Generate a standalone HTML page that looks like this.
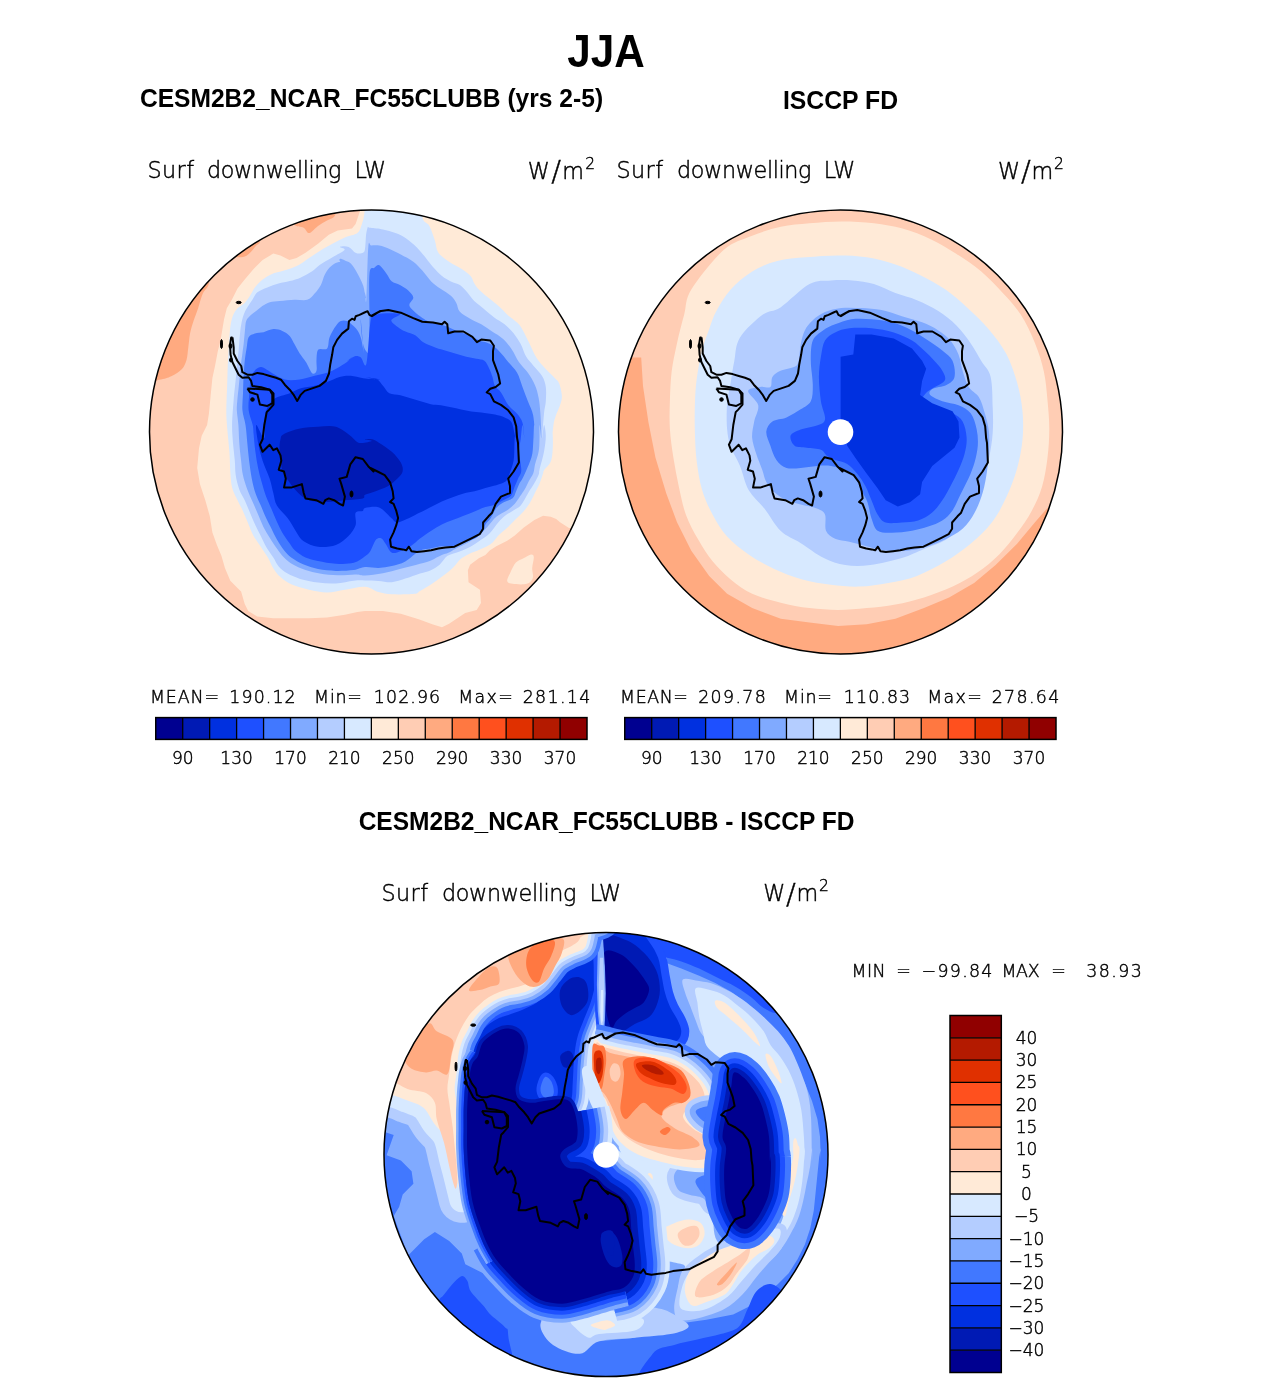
<!DOCTYPE html>
<html><head><meta charset="utf-8"><title>JJA Surf downwelling LW</title>
<style>
html,body{margin:0;padding:0;background:#fff;}
svg{display:block;}
.t{font-family:"DejaVu Sans",sans-serif;font-weight:200;fill:#000;stroke:#000;stroke-width:0.45px;}
.b{font-family:"Liberation Sans",sans-serif;font-weight:700;fill:#000;}
</style></head><body>
<svg width="1285" height="1383" viewBox="0 0 1285 1383">
<rect width="1285" height="1383" fill="#fff"/>
<text id="jja" class="b" x="606.00" y="66.6" font-size="45.5" text-anchor="middle" textLength="77.50" lengthAdjust="spacingAndGlyphs">JJA</text>
<text id="t1" class="b" x="371.50" y="106.8" font-size="26" text-anchor="middle" textLength="463.21" lengthAdjust="spacingAndGlyphs">CESM2B2_NCAR_FC55CLUBB (yrs 2-5)</text>
<text id="t2" class="b" x="840.50" y="109.2" font-size="26" text-anchor="middle" textLength="115.04" lengthAdjust="spacingAndGlyphs">ISCCP FD</text>
<text id="t3" class="b" x="606.50" y="829.6" font-size="26" text-anchor="middle" textLength="495.73" lengthAdjust="spacingAndGlyphs">CESM2B2_NCAR_FC55CLUBB - ISCCP FD</text>
<text id="s0a" class="t" x="170.75" y="178.3" font-size="22.3" text-anchor="middle" textLength="46.65" lengthAdjust="spacing">Surf</text>
<text id="s0b" class="t" x="274.25" y="178.3" font-size="22.3" text-anchor="middle" textLength="134.48" lengthAdjust="spacing">downwelling</text>
<text id="s0c" class="t" x="370.25" y="178.3" font-size="22.3" text-anchor="middle" textLength="31.62" lengthAdjust="spacing">LW</text>
<text id="w0" class="t" x="561.50" y="178.8" font-size="22.3" text-anchor="middle" textLength="67.32" lengthAdjust="spacing">W<tspan font-size="29" dy="2.5">/</tspan><tspan dy="-2.5">m</tspan><tspan font-size="15.5" dy="-10">2</tspan></text>
<text id="m0a" class="t" x="184.50" y="702.9" font-size="17.4" text-anchor="middle" textLength="69.11" lengthAdjust="spacing">MEAN=</text>
<text id="m0b" class="t" x="262.50" y="702.9" font-size="17.4" text-anchor="middle" textLength="66.38" lengthAdjust="spacing">190.12</text>
<text id="m0c" class="t" x="338.00" y="702.9" font-size="17.4" text-anchor="middle" textLength="47.84" lengthAdjust="spacing">Min=</text>
<text id="m0d" class="t" x="407.00" y="702.9" font-size="17.4" text-anchor="middle" textLength="66.26" lengthAdjust="spacing">102.96</text>
<text id="m0e" class="t" x="485.50" y="702.9" font-size="17.4" text-anchor="middle" textLength="54.53" lengthAdjust="spacing">Max=</text>
<text id="m0f" class="t" x="556.50" y="702.9" font-size="17.4" text-anchor="middle" textLength="67.58" lengthAdjust="spacing">281.14</text>
<text id="s1a" class="t" x="639.75" y="178.3" font-size="22.3" text-anchor="middle" textLength="46.65" lengthAdjust="spacing">Surf</text>
<text id="s1b" class="t" x="744.25" y="178.3" font-size="22.3" text-anchor="middle" textLength="134.48" lengthAdjust="spacing">downwelling</text>
<text id="s1c" class="t" x="839.45" y="178.3" font-size="22.3" text-anchor="middle" textLength="31.62" lengthAdjust="spacing">LW</text>
<text id="w1" class="t" x="1031.00" y="178.8" font-size="22.3" text-anchor="middle" textLength="65.98" lengthAdjust="spacing">W<tspan font-size="29" dy="2.5">/</tspan><tspan dy="-2.5">m</tspan><tspan font-size="15.5" dy="-10">2</tspan></text>
<text id="m1a" class="t" x="654.00" y="702.9" font-size="17.4" text-anchor="middle" textLength="67.86" lengthAdjust="spacing">MEAN=</text>
<text id="m1b" class="t" x="732.00" y="702.9" font-size="17.4" text-anchor="middle" textLength="67.58" lengthAdjust="spacing">209.78</text>
<text id="m1c" class="t" x="808.00" y="702.9" font-size="17.4" text-anchor="middle" textLength="47.84" lengthAdjust="spacing">Min=</text>
<text id="m1d" class="t" x="877.00" y="702.9" font-size="17.4" text-anchor="middle" textLength="66.26" lengthAdjust="spacing">110.83</text>
<text id="m1e" class="t" x="954.50" y="702.9" font-size="17.4" text-anchor="middle" textLength="54.53" lengthAdjust="spacing">Max=</text>
<text id="m1f" class="t" x="1025.50" y="702.9" font-size="17.4" text-anchor="middle" textLength="67.58" lengthAdjust="spacing">278.64</text>
<text id="s2a" class="t" x="404.75" y="901.3" font-size="22.3" text-anchor="middle" textLength="46.65" lengthAdjust="spacing">Surf</text>
<text id="s2b" class="t" x="509.25" y="901.3" font-size="22.3" text-anchor="middle" textLength="134.48" lengthAdjust="spacing">downwelling</text>
<text id="s2c" class="t" x="605.25" y="901.3" font-size="22.3" text-anchor="middle" textLength="31.62" lengthAdjust="spacing">LW</text>
<text id="w2" class="t" x="796.00" y="901.1" font-size="22.3" text-anchor="middle" textLength="65.72" lengthAdjust="spacing">W<tspan font-size="29" dy="2.5">/</tspan><tspan dy="-2.5">m</tspan><tspan font-size="15.5" dy="-10">2</tspan></text>
<text id="mm1" class="t" x="868.50" y="976.5" font-size="17.4" text-anchor="middle" textLength="34.21" lengthAdjust="spacing">MIN</text>
<text id="mm2" class="t" x="903.50" y="976.5" font-size="17.4" text-anchor="middle" textLength="21.58" lengthAdjust="spacing">=</text>
<text id="mm3" class="t" x="957.00" y="976.5" font-size="17.4" text-anchor="middle" textLength="70.84" lengthAdjust="spacing">&#8722;99.84</text>
<text id="mm4" class="t" x="1020.50" y="976.5" font-size="17.4" text-anchor="middle" textLength="38.23" lengthAdjust="spacing">MAX</text>
<text id="mm5" class="t" x="1058.50" y="976.5" font-size="17.4" text-anchor="middle" textLength="15.98" lengthAdjust="spacing">=</text>
<text id="mm6" class="t" x="1114.00" y="976.5" font-size="17.4" text-anchor="middle" textLength="55.67" lengthAdjust="spacing">38.93</text>
<rect x="155.75" y="717.6" width="26.95" height="21.8" fill="#000090"/>
<rect x="182.70" y="717.6" width="26.95" height="21.8" fill="#001AB4"/>
<rect x="209.66" y="717.6" width="26.95" height="21.8" fill="#0030E0"/>
<rect x="236.61" y="717.6" width="26.95" height="21.8" fill="#1E50FF"/>
<rect x="263.56" y="717.6" width="26.95" height="21.8" fill="#4178FF"/>
<rect x="290.52" y="717.6" width="26.95" height="21.8" fill="#80AAFF"/>
<rect x="317.47" y="717.6" width="26.95" height="21.8" fill="#B4CDFF"/>
<rect x="344.42" y="717.6" width="26.95" height="21.8" fill="#D7E9FF"/>
<rect x="371.38" y="717.6" width="26.95" height="21.8" fill="#FFEAD7"/>
<rect x="398.33" y="717.6" width="26.95" height="21.8" fill="#FFCDB4"/>
<rect x="425.28" y="717.6" width="26.95" height="21.8" fill="#FFAA80"/>
<rect x="452.23" y="717.6" width="26.95" height="21.8" fill="#FF7841"/>
<rect x="479.19" y="717.6" width="26.95" height="21.8" fill="#FF501E"/>
<rect x="506.14" y="717.6" width="26.95" height="21.8" fill="#E03000"/>
<rect x="533.09" y="717.6" width="26.95" height="21.8" fill="#B41A00"/>
<rect x="560.05" y="717.6" width="26.95" height="21.8" fill="#900000"/>
<line x1="182.70" y1="717.6" x2="182.70" y2="739.4" stroke="#000" stroke-width="1.3"/>
<line x1="209.66" y1="717.6" x2="209.66" y2="739.4" stroke="#000" stroke-width="1.3"/>
<line x1="236.61" y1="717.6" x2="236.61" y2="739.4" stroke="#000" stroke-width="1.3"/>
<line x1="263.56" y1="717.6" x2="263.56" y2="739.4" stroke="#000" stroke-width="1.3"/>
<line x1="290.52" y1="717.6" x2="290.52" y2="739.4" stroke="#000" stroke-width="1.3"/>
<line x1="317.47" y1="717.6" x2="317.47" y2="739.4" stroke="#000" stroke-width="1.3"/>
<line x1="344.42" y1="717.6" x2="344.42" y2="739.4" stroke="#000" stroke-width="1.3"/>
<line x1="371.38" y1="717.6" x2="371.38" y2="739.4" stroke="#000" stroke-width="1.3"/>
<line x1="398.33" y1="717.6" x2="398.33" y2="739.4" stroke="#000" stroke-width="1.3"/>
<line x1="425.28" y1="717.6" x2="425.28" y2="739.4" stroke="#000" stroke-width="1.3"/>
<line x1="452.23" y1="717.6" x2="452.23" y2="739.4" stroke="#000" stroke-width="1.3"/>
<line x1="479.19" y1="717.6" x2="479.19" y2="739.4" stroke="#000" stroke-width="1.3"/>
<line x1="506.14" y1="717.6" x2="506.14" y2="739.4" stroke="#000" stroke-width="1.3"/>
<line x1="533.09" y1="717.6" x2="533.09" y2="739.4" stroke="#000" stroke-width="1.3"/>
<line x1="560.05" y1="717.6" x2="560.05" y2="739.4" stroke="#000" stroke-width="1.3"/>
<rect x="155.75" y="717.6" width="431.25" height="21.8" fill="none" stroke="#000" stroke-width="1.5"/>
<text class="t" x="182.7" y="763.8" font-size="17" text-anchor="middle">90</text>
<text class="t" x="236.6" y="763.8" font-size="17" text-anchor="middle">130</text>
<text class="t" x="290.5" y="763.8" font-size="17" text-anchor="middle">170</text>
<text class="t" x="344.4" y="763.8" font-size="17" text-anchor="middle">210</text>
<text class="t" x="398.3" y="763.8" font-size="17" text-anchor="middle">250</text>
<text class="t" x="452.2" y="763.8" font-size="17" text-anchor="middle">290</text>
<text class="t" x="506.1" y="763.8" font-size="17" text-anchor="middle">330</text>
<text class="t" x="560.0" y="763.8" font-size="17" text-anchor="middle">370</text>
<rect x="624.75" y="717.6" width="26.95" height="21.8" fill="#000090"/>
<rect x="651.70" y="717.6" width="26.95" height="21.8" fill="#001AB4"/>
<rect x="678.66" y="717.6" width="26.95" height="21.8" fill="#0030E0"/>
<rect x="705.61" y="717.6" width="26.95" height="21.8" fill="#1E50FF"/>
<rect x="732.56" y="717.6" width="26.95" height="21.8" fill="#4178FF"/>
<rect x="759.52" y="717.6" width="26.95" height="21.8" fill="#80AAFF"/>
<rect x="786.47" y="717.6" width="26.95" height="21.8" fill="#B4CDFF"/>
<rect x="813.42" y="717.6" width="26.95" height="21.8" fill="#D7E9FF"/>
<rect x="840.38" y="717.6" width="26.95" height="21.8" fill="#FFEAD7"/>
<rect x="867.33" y="717.6" width="26.95" height="21.8" fill="#FFCDB4"/>
<rect x="894.28" y="717.6" width="26.95" height="21.8" fill="#FFAA80"/>
<rect x="921.23" y="717.6" width="26.95" height="21.8" fill="#FF7841"/>
<rect x="948.19" y="717.6" width="26.95" height="21.8" fill="#FF501E"/>
<rect x="975.14" y="717.6" width="26.95" height="21.8" fill="#E03000"/>
<rect x="1002.09" y="717.6" width="26.95" height="21.8" fill="#B41A00"/>
<rect x="1029.05" y="717.6" width="26.95" height="21.8" fill="#900000"/>
<line x1="651.70" y1="717.6" x2="651.70" y2="739.4" stroke="#000" stroke-width="1.3"/>
<line x1="678.66" y1="717.6" x2="678.66" y2="739.4" stroke="#000" stroke-width="1.3"/>
<line x1="705.61" y1="717.6" x2="705.61" y2="739.4" stroke="#000" stroke-width="1.3"/>
<line x1="732.56" y1="717.6" x2="732.56" y2="739.4" stroke="#000" stroke-width="1.3"/>
<line x1="759.52" y1="717.6" x2="759.52" y2="739.4" stroke="#000" stroke-width="1.3"/>
<line x1="786.47" y1="717.6" x2="786.47" y2="739.4" stroke="#000" stroke-width="1.3"/>
<line x1="813.42" y1="717.6" x2="813.42" y2="739.4" stroke="#000" stroke-width="1.3"/>
<line x1="840.38" y1="717.6" x2="840.38" y2="739.4" stroke="#000" stroke-width="1.3"/>
<line x1="867.33" y1="717.6" x2="867.33" y2="739.4" stroke="#000" stroke-width="1.3"/>
<line x1="894.28" y1="717.6" x2="894.28" y2="739.4" stroke="#000" stroke-width="1.3"/>
<line x1="921.23" y1="717.6" x2="921.23" y2="739.4" stroke="#000" stroke-width="1.3"/>
<line x1="948.19" y1="717.6" x2="948.19" y2="739.4" stroke="#000" stroke-width="1.3"/>
<line x1="975.14" y1="717.6" x2="975.14" y2="739.4" stroke="#000" stroke-width="1.3"/>
<line x1="1002.09" y1="717.6" x2="1002.09" y2="739.4" stroke="#000" stroke-width="1.3"/>
<line x1="1029.05" y1="717.6" x2="1029.05" y2="739.4" stroke="#000" stroke-width="1.3"/>
<rect x="624.75" y="717.6" width="431.25" height="21.8" fill="none" stroke="#000" stroke-width="1.5"/>
<text class="t" x="651.7" y="763.8" font-size="17" text-anchor="middle">90</text>
<text class="t" x="705.6" y="763.8" font-size="17" text-anchor="middle">130</text>
<text class="t" x="759.5" y="763.8" font-size="17" text-anchor="middle">170</text>
<text class="t" x="813.4" y="763.8" font-size="17" text-anchor="middle">210</text>
<text class="t" x="867.3" y="763.8" font-size="17" text-anchor="middle">250</text>
<text class="t" x="921.2" y="763.8" font-size="17" text-anchor="middle">290</text>
<text class="t" x="975.1" y="763.8" font-size="17" text-anchor="middle">330</text>
<text class="t" x="1029.0" y="763.8" font-size="17" text-anchor="middle">370</text>
<rect x="950" y="1015.50" width="51.3" height="22.31" fill="#900000"/>
<rect x="950" y="1037.81" width="51.3" height="22.31" fill="#B41A00"/>
<rect x="950" y="1060.12" width="51.3" height="22.31" fill="#E03000"/>
<rect x="950" y="1082.44" width="51.3" height="22.31" fill="#FF501E"/>
<rect x="950" y="1104.75" width="51.3" height="22.31" fill="#FF7841"/>
<rect x="950" y="1127.06" width="51.3" height="22.31" fill="#FFAA80"/>
<rect x="950" y="1149.38" width="51.3" height="22.31" fill="#FFCDB4"/>
<rect x="950" y="1171.69" width="51.3" height="22.31" fill="#FFEAD7"/>
<rect x="950" y="1194.00" width="51.3" height="22.31" fill="#D7E9FF"/>
<rect x="950" y="1216.31" width="51.3" height="22.31" fill="#B4CDFF"/>
<rect x="950" y="1238.62" width="51.3" height="22.31" fill="#80AAFF"/>
<rect x="950" y="1260.94" width="51.3" height="22.31" fill="#4178FF"/>
<rect x="950" y="1283.25" width="51.3" height="22.31" fill="#1E50FF"/>
<rect x="950" y="1305.56" width="51.3" height="22.31" fill="#0030E0"/>
<rect x="950" y="1327.88" width="51.3" height="22.31" fill="#001AB4"/>
<rect x="950" y="1350.19" width="51.3" height="22.31" fill="#000090"/>
<line x1="950" y1="1037.81" x2="1001.3" y2="1037.81" stroke="#000" stroke-width="1.3"/>
<line x1="950" y1="1060.12" x2="1001.3" y2="1060.12" stroke="#000" stroke-width="1.3"/>
<line x1="950" y1="1082.44" x2="1001.3" y2="1082.44" stroke="#000" stroke-width="1.3"/>
<line x1="950" y1="1104.75" x2="1001.3" y2="1104.75" stroke="#000" stroke-width="1.3"/>
<line x1="950" y1="1127.06" x2="1001.3" y2="1127.06" stroke="#000" stroke-width="1.3"/>
<line x1="950" y1="1149.38" x2="1001.3" y2="1149.38" stroke="#000" stroke-width="1.3"/>
<line x1="950" y1="1171.69" x2="1001.3" y2="1171.69" stroke="#000" stroke-width="1.3"/>
<line x1="950" y1="1194.00" x2="1001.3" y2="1194.00" stroke="#000" stroke-width="1.3"/>
<line x1="950" y1="1216.31" x2="1001.3" y2="1216.31" stroke="#000" stroke-width="1.3"/>
<line x1="950" y1="1238.62" x2="1001.3" y2="1238.62" stroke="#000" stroke-width="1.3"/>
<line x1="950" y1="1260.94" x2="1001.3" y2="1260.94" stroke="#000" stroke-width="1.3"/>
<line x1="950" y1="1283.25" x2="1001.3" y2="1283.25" stroke="#000" stroke-width="1.3"/>
<line x1="950" y1="1305.56" x2="1001.3" y2="1305.56" stroke="#000" stroke-width="1.3"/>
<line x1="950" y1="1327.88" x2="1001.3" y2="1327.88" stroke="#000" stroke-width="1.3"/>
<line x1="950" y1="1350.19" x2="1001.3" y2="1350.19" stroke="#000" stroke-width="1.3"/>
<rect x="950" y="1015.5" width="51.3" height="357" fill="none" stroke="#000" stroke-width="1.5"/>
<text class="t" x="1026.5" y="1043.8" font-size="17" text-anchor="middle">40</text>
<text class="t" x="1026.5" y="1066.1" font-size="17" text-anchor="middle">30</text>
<text class="t" x="1026.5" y="1088.4" font-size="17" text-anchor="middle">25</text>
<text class="t" x="1026.5" y="1110.8" font-size="17" text-anchor="middle">20</text>
<text class="t" x="1026.5" y="1133.1" font-size="17" text-anchor="middle">15</text>
<text class="t" x="1026.5" y="1155.4" font-size="17" text-anchor="middle">10</text>
<text class="t" x="1026.5" y="1177.7" font-size="17" text-anchor="middle">5</text>
<text class="t" x="1026.5" y="1200.0" font-size="17" text-anchor="middle">0</text>
<text class="t" x="1026.5" y="1222.3" font-size="17" text-anchor="middle">&#8722;5</text>
<text class="t" x="1026.5" y="1244.6" font-size="17" text-anchor="middle">&#8722;10</text>
<text class="t" x="1026.5" y="1266.9" font-size="17" text-anchor="middle">&#8722;15</text>
<text class="t" x="1026.5" y="1289.2" font-size="17" text-anchor="middle">&#8722;20</text>
<text class="t" x="1026.5" y="1311.6" font-size="17" text-anchor="middle">&#8722;25</text>
<text class="t" x="1026.5" y="1333.9" font-size="17" text-anchor="middle">&#8722;30</text>
<text class="t" x="1026.5" y="1356.2" font-size="17" text-anchor="middle">&#8722;40</text>
<clipPath id="clipa"><circle cx="371.5" cy="432" r="222"/></clipPath>
<g clip-path="url(#clipa)">
<circle cx="371.5" cy="432" r="222" fill="#FFCDB4"/>
<path d="M208.9,282.3C209.0,287.6 204.4,289.6 202.6,293.9C200.8,298.2 199.6,303.8 198.1,308.2C196.6,312.7 195.0,316.6 193.6,320.8C192.3,324.9 191.0,328.8 190.1,333.3C189.2,337.8 188.9,343.1 188.3,347.6C187.7,352.1 187.5,356.6 186.5,360.1C185.4,363.7 184.5,366.4 182.0,369.1C179.5,371.8 175.1,374.5 171.3,376.2C167.4,378.0 165.6,378.6 158.7,379.8C151.9,381.0 134.9,403.1 130.1,383.4C125.3,363.7 118.2,282.0 130.1,261.7C142.0,241.4 188.6,258.3 201.7,261.7C214.8,265.1 208.7,276.9 208.9,282.3Z" fill="#FFAA80"/>
<path d="M232.1,254.9C234.2,257.1 238.4,257.3 241.1,257.2C243.8,257.2 245.8,256.3 248.2,254.5C250.6,252.7 253.5,248.7 255.4,246.5C257.3,244.2 259.9,244.5 259.9,241.1C259.9,237.7 260.6,225.5 255.4,225.9C250.2,226.3 232.4,239.0 228.5,243.8C224.7,248.6 230.0,252.7 232.1,254.9Z" fill="#FFAA80"/>
<path d="M293.9,223.2C295.5,228.0 301.2,226.0 303.7,227.7C306.3,229.3 306.7,233.4 309.1,233.1C311.5,232.8 315.1,228.0 318.0,225.9C321.0,223.8 324.2,222.3 327.0,220.5C329.8,218.7 333.7,218.7 335.0,215.2C336.4,211.6 341.9,201.7 335.0,199.1C328.2,196.4 300.7,195.0 293.9,199.1C287.0,203.1 292.2,218.4 293.9,223.2Z" fill="#FFAA80"/>
<path d="M360.1,210.7 355.6,224.1 352.0,228.6 337.7,230.4 328.8,234.8 318.0,243.8 305.5,252.7 296.6,258.1 289.4,259.9 280.5,255.4 273.3,253.6 262.6,259.9 253.6,268.9 244.7,279.6 237.5,288.5 232.1,299.3 226.8,308.2 224.1,319.0 222.3,329.7 220.5,340.5 217.8,351.2 215.1,365.5 212.4,378.0 210.6,395.9 208.9,413.8 207.1,425.0 201.7,435.7 199.0,448.3 197.2,468.0 199.9,484.1 205.3,500.2 209.8,516.3 212.4,532.4 216.9,544.9 221.4,555.7 225.0,568.2 230.3,580.7 237.5,587.9 241.1,591.5 244.7,604.0 248.2,611.1 257.2,616.5 273.3,618.3 291.2,618.3 309.1,618.3 327.0,617.4 344.9,614.7 357.4,612.0 365.0,611.1 382.9,611.1 400.8,613.8 418.7,619.2 433.0,624.6 442.0,627.3 449.1,623.7 465.2,612.9 476.7,610.0 481.0,602.9 479.9,589.8 468.5,582.2 467.9,570.2 470.1,564.8 478.8,558.2 485.4,555.0 489.7,550.6 496.3,546.3 507.2,540.8 514.8,535.4 523.5,527.7 534.4,520.1 543.1,515.8 550.7,516.8 556.2,519.0 560.0,522.3 569.0,527.9 615.6,527.9 640.0,530.0 640.0,150.0 360.0,150.0Z" fill="#FFEAD7"/>
<path d="M507.2,581.1C506.8,579.2 509.0,575.5 510.4,572.4C511.9,569.3 513.7,565.0 515.9,562.6C518.0,560.2 521.0,559.6 523.5,558.2C526.0,556.9 529.4,554.6 531.1,554.4C532.8,554.3 533.7,554.9 533.8,557.2C534.0,559.4 532.4,564.6 532.2,568.0C532.0,571.5 533.7,575.2 532.8,577.9C531.8,580.5 530.1,582.8 526.8,583.8C523.4,584.8 515.9,584.3 512.6,583.8C509.3,583.4 507.5,583.0 507.2,581.1Z" fill="#FFEAD7"/>
<path d="M364.6,211.6C363.7,218.9 363.1,220.5 361.9,224.1C360.7,227.7 360.2,230.8 357.4,233.1C354.6,235.3 349.1,235.7 344.9,237.5C340.7,239.3 336.5,241.6 332.4,243.8C328.2,246.0 323.7,248.6 319.8,251.0C315.9,253.3 312.7,255.7 309.1,258.1C305.5,260.5 302.5,263.2 298.3,265.3C294.2,267.4 288.5,269.2 284.0,270.6C279.6,272.1 275.1,272.7 271.5,274.2C267.9,275.7 265.2,277.5 262.6,279.6C259.9,281.7 257.5,284.1 255.4,286.8C253.3,289.4 251.8,293.0 250.0,295.7C248.2,298.4 246.7,300.8 244.7,302.9C242.6,305.0 239.4,306.1 237.5,308.2C235.6,310.3 234.2,312.7 233.0,315.4C231.9,318.1 231.3,320.8 230.7,324.3C230.1,327.9 229.8,332.4 229.4,336.9C229.1,341.3 228.8,345.8 228.5,351.2C228.2,356.6 227.9,363.1 227.6,369.1C227.4,375.1 227.3,381.0 227.1,387.0C226.9,393.0 226.5,398.9 226.4,404.9C226.3,410.9 226.2,415.0 226.8,422.8C227.3,430.6 228.8,443.7 229.4,451.8C230.0,460.0 229.9,465.6 230.3,471.5C230.8,477.5 230.9,482.9 232.1,487.6C233.3,492.4 235.7,496.3 237.5,500.2C239.3,504.1 241.1,507.0 242.9,510.9C244.7,514.8 246.4,519.3 248.2,523.4C250.0,527.6 251.5,532.1 253.6,536.0C255.7,539.8 258.4,543.1 260.8,546.7C263.1,550.3 265.8,553.9 267.9,557.5C270.0,561.0 271.2,564.9 273.3,568.2C275.4,571.5 277.5,574.5 280.5,577.1C283.4,579.8 286.4,582.2 291.2,584.3C296.0,586.4 303.1,588.3 309.1,589.7C315.1,591.0 321.0,592.4 327.0,592.4C333.0,592.4 338.6,590.6 344.9,589.7C351.2,588.7 359.4,586.3 365.0,586.7C370.6,587.1 374.0,590.8 378.4,592.1C382.9,593.3 385.9,594.0 391.9,594.3C397.8,594.6 409.5,594.4 414.2,593.8C418.9,593.3 417.2,592.5 420.0,590.9C422.8,589.4 427.3,586.8 430.9,584.4C434.5,582.0 438.2,579.5 441.8,576.8C445.4,574.0 449.6,571.0 452.7,568.0C455.8,565.1 457.6,561.7 460.3,559.3C463.0,557.0 465.8,555.5 469.0,553.9C472.3,552.3 476.3,551.2 479.9,549.5C483.6,547.9 487.7,546.4 490.8,544.1C493.9,541.7 495.7,538.1 498.4,535.4C501.2,532.6 504.3,530.5 507.2,527.7C510.1,525.0 513.1,521.7 515.9,519.0C518.6,516.3 521.1,514.1 523.5,511.4C525.9,508.7 528.0,506.0 530.0,502.7C532.0,499.4 533.8,495.1 535.5,491.8C537.1,488.5 538.6,486.2 539.8,483.1C541.1,480.0 542.4,475.4 543.1,473.3C543.8,471.1 542.9,472.1 544.2,470.0C545.5,467.9 549.7,465.3 551.1,460.8C552.6,456.3 552.8,448.9 552.9,442.9C553.1,436.9 552.2,425.8 552.0,425.0C551.9,424.2 551.7,438.4 552.0,438.0C552.3,437.6 553.1,426.8 553.8,422.8C554.6,418.8 555.5,416.8 556.5,413.8C557.6,410.9 559.2,407.9 560.1,404.9C561.0,401.9 562.0,399.5 561.9,395.9C561.7,392.4 560.4,386.4 559.2,383.4C558.0,380.4 557.0,380.4 554.7,378.0C552.5,375.7 548.8,372.4 545.8,369.1C542.8,365.8 539.5,362.5 536.8,358.3C534.1,354.2 532.1,348.8 529.7,344.0C527.3,339.3 524.6,333.3 522.5,329.7C520.4,326.1 519.5,324.9 517.1,322.6C514.8,320.2 510.9,317.8 508.2,315.4C505.5,313.0 504.0,310.9 501.0,308.2C498.0,305.5 493.9,302.3 490.3,299.3C486.7,296.3 482.2,293.0 479.6,290.3C476.9,287.6 475.7,285.6 474.2,283.2C472.7,280.8 472.7,278.4 470.6,276.0C468.5,273.6 465.2,271.2 461.7,268.9C458.1,266.5 453.0,264.4 449.1,261.7C445.2,259.0 440.8,256.3 438.4,252.7C436.0,249.2 436.3,244.7 434.8,240.2C433.3,235.7 431.5,229.9 429.4,225.9C427.3,221.9 423.0,223.7 422.3,216.1C421.5,208.4 434.2,186.0 425.0,180.0C415.8,174.0 377.1,174.7 367.0,180.0C356.9,185.3 365.4,204.2 364.6,211.6Z" fill="#D7E9FF"/>
<path d="M368.3,227.2C368.8,227.3 368.3,227.5 370.7,227.8C373.2,228.2 378.8,228.6 382.9,229.5C387.0,230.4 391.5,231.6 395.4,233.1C399.3,234.5 402.6,236.0 406.2,238.4C409.7,240.8 413.6,244.1 416.9,247.4C420.2,250.7 423.2,254.8 425.9,258.1C428.5,261.4 430.3,264.1 433.0,267.1C435.7,270.0 439.0,273.6 442.0,276.0C444.9,278.4 447.9,279.9 450.9,281.4C453.9,282.9 457.2,283.2 459.9,285.0C462.5,286.8 464.6,289.4 467.0,292.1C469.4,294.8 471.5,298.4 474.2,301.1C476.9,303.8 479.8,305.5 483.1,308.2C486.4,310.9 490.3,314.5 493.9,317.2C497.5,319.9 501.3,321.7 504.6,324.3C507.9,327.0 510.9,330.0 513.6,333.3C516.2,336.6 518.6,340.2 520.7,344.0C522.8,347.9 524.0,353.0 526.1,356.6C528.2,360.1 530.6,362.2 533.2,365.5C535.9,368.8 540.1,372.7 542.2,376.2C544.3,379.8 545.2,382.8 545.8,387.0C546.4,391.2 546.1,396.8 545.8,401.3C545.5,405.8 544.6,407.7 544.0,413.8C543.4,420.0 542.2,436.1 542.2,438.0C542.2,439.9 543.4,425.4 544.0,425.0C544.6,424.6 545.8,431.3 545.8,435.7C545.8,440.2 545.0,446.2 544.0,451.8C542.9,457.5 540.4,466.0 539.5,469.7C538.6,473.5 539.6,472.1 538.7,474.4C537.9,476.6 536.0,480.2 534.4,483.1C532.8,486.0 530.6,489.1 528.9,491.8C527.3,494.5 526.0,497.1 524.6,499.4C523.1,501.8 522.0,504.1 520.2,506.0C518.4,507.8 516.2,508.7 513.7,510.3C511.2,511.9 507.5,513.8 505.0,515.8C502.4,517.8 501.0,519.4 498.4,522.3C495.9,525.2 492.6,530.3 489.7,533.2C486.8,536.1 484.5,537.4 481.0,539.7C477.6,542.1 473.2,545.2 469.0,547.4C464.8,549.5 459.6,551.3 456.0,552.8C452.3,554.3 450.0,554.1 447.2,556.1C444.5,558.1 442.3,562.4 439.6,564.8C436.9,567.1 434.2,568.8 430.9,570.2C427.6,571.7 424.3,572.1 420.0,573.5C415.7,574.9 410.0,577.2 405.3,578.6C400.6,580.1 396.3,581.8 391.9,582.2C387.4,582.6 382.9,581.2 378.4,580.9C374.0,580.6 369.1,580.4 365.0,580.4C360.9,580.4 358.7,580.2 353.8,580.7C349.0,581.2 341.9,583.1 335.9,583.4C330.0,583.7 324.0,583.3 318.0,582.5C312.1,581.8 305.2,580.4 300.1,578.9C295.1,577.4 291.2,575.6 287.6,573.6C284.0,571.5 281.0,569.1 278.7,566.4C276.3,563.7 275.4,560.7 273.3,557.5C271.2,554.2 268.2,550.3 266.1,546.7C264.0,543.1 262.6,539.6 260.8,536.0C259.0,532.4 257.2,529.1 255.4,525.2C253.6,521.4 251.8,516.9 250.0,512.7C248.2,508.5 246.4,504.1 244.7,500.2C242.9,496.3 240.8,493.6 239.3,489.4C237.8,485.3 236.4,479.9 235.7,475.1C235.0,470.3 235.3,466.2 234.8,460.8C234.4,455.4 233.5,448.9 233.0,442.9C232.6,436.9 232.0,432.2 232.1,425.0C232.2,417.8 233.2,405.8 233.7,399.4C234.2,393.1 234.5,391.1 234.9,387.0C235.4,382.8 235.8,378.7 236.2,374.5C236.6,370.4 237.0,366.2 237.4,362.1C237.8,357.9 238.3,354.2 238.7,349.6C239.1,345.1 239.5,338.8 239.9,334.7C240.3,330.5 240.5,328.0 241.2,324.7C241.8,321.4 242.6,317.7 243.7,314.8C244.7,311.9 245.9,309.8 247.4,307.3C248.9,304.8 250.7,302.3 252.4,299.8C254.0,297.3 254.9,294.4 257.4,292.3C259.9,290.3 263.8,288.8 267.3,287.4C270.9,285.9 274.8,284.7 278.5,283.6C282.3,282.6 286.0,282.2 289.7,281.1C293.5,280.1 297.2,279.1 300.9,277.4C304.7,275.7 309.0,273.2 312.2,271.2C315.3,269.1 316.3,267.2 319.6,264.9C322.9,262.7 327.9,260.0 332.1,257.5C336.2,255.0 343.2,251.8 344.5,250.0C345.9,248.2 339.3,247.4 340.0,246.9C340.7,246.4 345.9,245.9 348.6,246.9C351.3,247.9 353.5,252.1 356.0,253.0C358.4,254.0 361.8,253.4 363.4,252.4C364.9,251.4 364.8,249.9 365.2,246.9C365.7,243.9 365.7,237.9 366.1,234.6C366.5,231.3 367.3,228.4 367.7,227.2C368.0,226.0 367.8,227.1 368.3,227.2Z" fill="#B4CDFF"/>
<path d="M371.3,245.6C373.1,245.4 376.2,245.0 379.3,245.6C382.5,246.2 386.5,247.7 390.1,249.2C393.6,250.7 396.9,252.4 400.8,254.5C404.7,256.6 409.7,259.0 413.3,261.7C416.9,264.4 419.3,267.4 422.3,270.6C425.3,273.9 428.2,278.4 431.2,281.4C434.2,284.4 436.9,286.2 440.2,288.5C443.5,290.9 448.2,293.3 450.9,295.7C453.6,298.1 454.8,300.2 456.3,302.9C457.8,305.5 457.5,309.1 459.9,311.8C462.2,314.5 467.0,316.9 470.6,319.0C474.2,321.1 477.8,322.3 481.3,324.3C484.9,326.4 488.5,329.1 492.1,331.5C495.7,333.9 499.5,335.7 502.8,338.7C506.1,341.6 509.1,345.5 511.8,349.4C514.5,353.3 516.2,358.1 518.9,361.9C521.6,365.8 525.2,368.8 527.9,372.7C530.6,376.5 533.2,381.0 535.0,385.2C536.8,389.4 537.7,393.0 538.6,397.7C539.5,402.5 540.0,407.1 540.4,413.8C540.9,420.5 541.5,436.1 541.3,438.0C541.2,439.9 539.8,424.8 539.5,425.0C539.2,425.2 539.7,434.8 539.5,439.3C539.4,443.8 539.4,447.7 538.6,451.8C537.9,456.0 535.9,460.8 535.0,464.4C534.2,467.9 534.3,470.5 533.3,473.3C532.3,476.0 530.4,478.2 528.9,480.9C527.5,483.6 526.0,487.1 524.6,489.6C523.1,492.2 521.9,493.8 520.2,496.1C518.6,498.5 517.0,501.4 514.8,503.8C512.6,506.1 510.2,508.1 507.2,510.3C504.1,512.5 499.5,514.1 496.3,516.8C493.0,519.6 490.3,523.7 487.5,526.7C484.8,529.6 483.0,531.7 479.9,534.3C476.8,536.8 473.0,539.5 469.0,541.9C465.0,544.3 459.4,546.6 456.0,548.4C452.5,550.3 450.7,551.7 448.3,552.8C446.0,553.9 444.7,553.7 441.8,555.0C438.9,556.2 434.5,559.0 430.9,560.4C427.3,561.9 425.0,562.3 420.0,563.7C415.0,565.1 407.0,567.2 400.8,568.8C394.6,570.4 388.9,572.1 382.9,573.3C376.9,574.4 369.5,575.3 365.0,575.5C360.5,575.7 360.2,574.5 355.6,574.5C351.1,574.4 343.7,575.5 337.7,575.3C331.8,575.2 325.2,574.5 319.8,573.6C314.5,572.7 310.0,571.5 305.5,570.0C301.0,568.5 296.6,566.7 293.0,564.6C289.4,562.5 286.7,560.1 284.0,557.5C281.3,554.8 279.3,551.8 276.9,548.5C274.5,545.2 271.9,541.3 269.7,537.8C267.5,534.2 265.4,530.9 263.4,527.0C261.5,523.1 259.9,518.7 258.1,514.5C256.3,510.3 254.5,506.1 252.7,502.0C250.9,497.8 249.0,493.9 247.3,489.4C245.7,485.0 243.9,479.9 242.9,475.1C241.8,470.3 241.7,466.2 241.1,460.8C240.5,455.4 239.7,448.9 239.3,442.9C238.8,436.9 238.8,430.5 238.4,425.0C238.0,419.5 237.0,414.3 236.8,410.0C236.7,405.8 237.1,403.3 237.4,399.4C237.7,395.6 238.3,391.1 238.7,387.0C239.1,382.8 239.5,378.7 239.9,374.5C240.3,370.4 240.8,365.6 241.2,362.1C241.6,358.6 242.0,356.5 242.4,353.4C242.8,350.2 243.2,347.1 243.7,343.4C244.1,339.7 244.5,334.7 244.9,330.9C245.3,327.2 245.3,323.5 246.2,321.0C247.0,318.5 248.2,317.7 249.9,316.0C251.5,314.3 254.0,312.7 256.1,311.0C258.2,309.4 260.1,307.5 262.3,306.0C264.6,304.6 266.9,303.1 269.8,302.3C272.7,301.5 275.6,301.5 279.8,301.1C283.9,300.6 290.2,300.0 294.7,299.8C299.3,299.6 303.9,300.9 307.2,299.8C310.5,298.8 312.4,296.1 314.6,293.6C316.9,291.1 319.2,288.0 320.9,284.9C322.5,281.8 323.2,277.8 324.6,274.9C326.1,272.0 327.5,269.5 329.6,267.4C331.7,265.4 334.6,263.3 337.1,262.5C339.6,261.6 341.8,261.6 344.5,262.5C347.2,263.3 350.8,264.9 353.3,267.4C355.7,269.9 357.8,274.1 359.5,277.4C361.1,280.7 362.4,284.0 363.2,287.4C364.0,290.7 368.3,301.6 364.5,297.3C360.6,293.0 342.8,267.6 340.0,261.6C337.2,255.7 345.3,261.0 347.4,261.6C349.4,262.3 350.5,263.1 352.3,265.3C354.1,267.6 356.6,271.7 358.4,275.2C360.3,278.7 362.2,282.7 363.4,286.2C364.5,289.7 364.7,294.0 365.2,296.1C365.7,298.1 365.9,306.7 366.4,298.5C366.9,290.3 367.5,255.7 368.3,246.9C369.1,238.1 369.4,245.8 371.3,245.6Z" fill="#80AAFF"/>
<path d="M369.5,273.9C370.3,265.1 372.8,269.2 374.4,267.8C376.1,266.4 377.3,264.3 379.3,265.3C381.4,266.4 384.7,271.3 386.7,273.9C388.8,276.6 389.4,279.5 391.6,281.3C393.9,283.2 397.3,283.5 400.0,285.0C402.7,286.5 405.7,288.3 408.0,290.3C410.2,292.4 413.0,294.8 413.3,297.5C413.6,300.2 408.0,302.9 409.7,306.4C411.5,310.0 420.2,316.3 424.1,319.0C427.9,321.7 429.4,321.4 433.0,322.6C436.6,323.7 441.4,324.6 445.5,326.1C449.7,327.6 454.2,330.0 458.1,331.5C462.0,333.0 465.2,333.6 468.8,335.1C472.4,336.6 476.0,339.0 479.6,340.5C483.1,341.9 487.0,342.2 490.3,344.0C493.6,345.8 496.3,348.2 499.2,351.2C502.2,354.2 505.2,358.3 508.2,361.9C511.2,365.5 514.8,368.5 517.1,372.7C519.5,376.8 520.7,382.2 522.5,387.0C524.3,391.8 526.1,396.5 527.9,401.3C529.7,406.1 532.1,409.5 533.2,415.6C534.4,421.7 534.9,436.4 535.0,438.0C535.2,439.6 534.4,424.2 534.1,425.0C533.8,425.8 533.7,437.5 533.2,442.9C532.8,448.3 533.1,451.6 531.5,457.2C529.8,462.8 525.6,472.0 523.5,476.5C521.4,481.0 520.4,481.6 519.1,484.2C517.9,486.7 517.0,489.4 515.9,491.8C514.8,494.1 514.8,496.5 512.6,498.3C510.4,500.1 505.5,501.0 502.8,502.7C500.1,504.3 498.3,505.6 496.3,508.1C494.3,510.7 492.6,515.2 490.8,517.9C489.0,520.7 486.6,522.3 485.4,524.5C484.1,526.7 484.6,528.8 483.2,531.0C481.7,533.2 479.0,535.9 476.7,537.5C474.3,539.2 472.1,539.5 469.0,540.8C465.9,542.1 460.9,544.3 458.1,545.2C455.4,546.1 455.4,546.1 452.7,546.3C450.0,546.4 445.4,545.9 441.8,546.3C438.2,546.6 434.5,547.7 430.9,548.4C427.3,549.2 424.3,548.4 420.0,550.6C415.7,552.8 410.0,559.0 405.3,561.6C400.6,564.2 396.3,565.1 391.9,566.1C387.4,567.1 382.9,567.7 378.4,567.9C374.0,568.0 369.1,566.6 365.0,567.0C360.9,567.3 358.7,569.3 353.8,570.0C349.0,570.6 341.9,571.0 335.9,570.9C330.0,570.7 323.4,570.1 318.0,569.1C312.7,568.0 308.2,566.5 303.7,564.6C299.2,562.7 294.5,559.8 291.2,557.5C287.9,555.1 286.4,553.3 284.0,550.3C281.6,547.3 279.0,543.1 276.9,539.6C274.8,536.0 273.3,532.4 271.5,528.8C269.7,525.2 267.9,522.0 266.1,518.1C264.3,514.2 262.6,509.7 260.8,505.5C259.0,501.4 256.9,497.5 255.4,493.0C253.9,488.5 252.9,484.1 251.8,478.7C250.8,473.3 249.9,466.8 249.1,460.8C248.4,454.8 247.9,448.9 247.3,442.9C246.7,436.9 246.4,430.5 245.5,425.0C244.7,419.5 242.8,415.3 242.4,410.0C242.0,404.7 242.8,399.1 243.0,393.2C243.2,387.3 243.3,380.1 243.7,374.5C244.0,368.9 244.4,364.2 244.9,359.6C245.4,355.0 246.2,350.9 246.8,347.1C247.4,343.4 247.3,339.5 248.6,337.2C250.0,334.9 252.4,334.3 254.9,333.4C257.4,332.6 260.5,332.9 263.6,332.2C266.7,331.5 270.4,329.3 273.5,329.1C276.7,328.9 279.6,329.8 282.3,330.9C285.0,332.1 287.7,333.6 289.7,335.9C291.8,338.2 293.1,341.7 294.7,344.6C296.4,347.6 297.8,350.5 299.7,353.4C301.6,356.3 303.9,358.8 305.9,362.1C308.0,365.4 310.4,371.8 312.2,373.3C313.9,374.7 315.8,373.1 316.5,370.8C317.2,368.5 316.2,363.1 316.5,359.6C316.8,356.1 316.6,351.5 318.4,349.6C320.1,347.8 325.2,350.5 327.1,348.4C329.0,346.3 328.1,340.9 329.6,337.2C331.0,333.4 333.9,328.7 335.8,326.0C337.7,323.3 338.9,321.8 340.8,321.0C342.7,320.2 345.2,320.4 347.0,321.0C348.9,321.6 350.3,323.3 352.0,324.7C353.7,326.2 355.5,327.6 357.0,329.7C358.4,331.8 359.7,333.9 360.7,337.2C361.8,340.5 362.6,345.9 363.2,349.6C363.8,353.4 364.0,355.4 364.5,359.6C364.9,363.7 366.3,381.0 365.7,374.5C365.1,368.0 361.6,327.6 360.9,320.7C360.2,313.7 361.1,328.9 361.5,333.0C361.9,337.1 362.5,342.2 363.4,345.3C364.2,348.3 365.5,350.6 366.4,351.4C367.4,352.2 368.4,355.3 368.9,350.2C369.4,345.0 369.4,333.4 369.5,320.7C369.6,308.0 368.7,282.7 369.5,273.9Z" fill="#4178FF"/>
<path d="M370.7,320.7C372.5,312.5 373.8,315.7 376.9,314.5C380.0,313.3 385.3,313.3 389.2,313.3C393.0,313.3 399.6,313.3 400.0,314.5C400.4,315.7 391.6,318.2 391.3,320.3C391.0,322.5 396.0,325.6 398.4,327.4C400.7,329.3 402.6,330.1 405.5,331.5C408.3,332.8 412.5,333.7 415.6,335.5C418.6,337.4 420.3,340.6 423.7,342.6C427.0,344.6 432.1,346.3 435.8,347.7C439.5,349.0 442.6,349.7 445.9,350.7C449.3,351.7 452.7,352.7 456.0,353.7C459.4,354.7 462.8,355.9 466.2,356.8C469.5,357.6 473.2,358.1 476.3,358.8C479.3,359.5 482.2,359.1 484.4,360.8C486.6,362.5 488.1,366.2 489.4,368.9C490.8,371.6 491.5,374.1 492.5,377.0C493.4,379.9 493.6,383.5 495.0,386.1C496.4,388.7 498.8,389.2 501.0,392.4C503.2,395.5 505.5,401.3 508.2,404.9C510.9,408.5 514.8,410.9 517.1,413.8C519.5,416.8 521.3,418.8 522.5,422.8C523.7,426.8 524.3,437.6 524.3,438.0C524.3,438.4 523.1,424.8 522.5,425.0C521.9,425.2 521.3,434.8 520.7,439.3C520.1,443.8 518.8,446.7 518.9,451.8C519.0,457.0 521.5,465.5 521.3,470.0C521.2,474.5 519.1,476.0 518.0,478.7C517.0,481.4 515.9,483.6 514.8,486.3C513.7,489.1 512.8,493.1 511.5,495.1C510.2,497.1 509.3,497.1 507.2,498.3C505.0,499.6 500.6,501.6 498.4,502.7C496.3,503.8 496.3,504.1 494.1,504.9C491.9,505.6 488.6,506.0 485.4,507.0C482.1,508.1 478.1,509.9 474.5,511.4C470.8,512.9 467.2,514.3 463.6,515.8C459.9,517.2 456.3,518.7 452.7,520.1C449.1,521.6 445.4,522.7 441.8,524.5C438.2,526.3 434.5,528.6 430.9,531.0C427.3,533.4 423.2,536.2 420.0,538.6C416.8,541.1 414.8,543.5 411.6,545.5C408.4,547.5 404.1,549.7 400.8,550.9C397.5,552.1 394.4,553.9 391.9,552.7C389.3,551.5 387.4,546.1 385.6,543.7C383.8,541.3 382.8,538.9 381.1,538.3C379.5,537.7 377.5,538.0 375.7,540.1C374.0,542.2 372.2,548.2 370.4,550.9C368.6,553.6 367.8,554.3 365.0,556.2C362.2,558.2 358.7,561.6 353.8,562.8C349.0,564.1 341.9,564.0 335.9,563.7C330.0,563.4 323.1,562.1 318.0,561.0C313.0,560.0 309.4,559.2 305.5,557.5C301.6,555.7 297.5,552.7 294.8,550.3C292.1,547.9 291.5,546.1 289.4,543.1C287.3,540.1 284.3,536.0 282.2,532.4C280.2,528.8 278.7,525.5 276.9,521.7C275.1,517.8 273.3,513.3 271.5,509.1C269.7,504.9 267.8,501.1 266.1,496.6C264.5,492.1 263.0,487.0 261.7,482.3C260.3,477.5 259.1,473.0 258.1,468.0C257.0,462.9 256.1,457.5 255.4,451.8C254.6,446.2 254.0,438.4 253.6,433.9C253.2,429.5 253.5,429.0 252.7,425.0C251.9,421.0 249.2,415.3 248.6,410.0C248.1,404.7 249.0,398.1 249.3,393.2C249.6,388.3 249.8,384.3 250.5,380.8C251.2,377.2 251.9,374.3 253.6,372.0C255.4,369.8 258.0,366.9 261.1,367.1C264.2,367.3 268.4,371.2 272.3,373.3C276.2,375.4 280.2,378.5 284.8,379.5C289.3,380.6 294.7,380.1 299.7,379.5C304.7,378.9 310.1,376.9 314.6,375.8C319.2,374.6 323.4,373.9 327.1,372.7C330.8,371.4 333.7,370.1 337.1,368.3C340.4,366.5 344.5,363.9 347.0,362.1C349.5,360.2 351.9,357.2 352.0,357.1C352.1,357.0 346.9,361.4 347.4,361.2C347.8,361.1 352.5,356.9 354.8,356.3C357.0,355.7 359.0,356.3 360.9,357.5C362.8,358.8 364.8,369.8 366.4,363.7C368.1,357.5 369.0,328.9 370.7,320.7Z" fill="#1E50FF"/>
<path d="M273.5,399.4C277.6,396.0 285.2,395.1 289.7,393.2C294.3,391.3 296.8,389.5 300.9,388.2C305.1,387.0 310.3,386.8 314.6,385.7C319.0,384.7 322.9,383.5 327.1,382.0C331.2,380.6 335.6,378.1 339.6,377.0C343.5,376.0 346.8,375.6 350.8,375.8C354.7,376.0 358.3,377.6 363.2,378.3C368.1,378.9 379.7,379.7 380.0,379.5C380.3,379.3 366.2,377.1 365.0,377.0C363.8,376.9 370.9,378.5 373.1,379.0C375.3,379.5 376.5,378.9 378.2,380.0C379.8,381.2 381.4,383.9 383.2,386.1C385.1,388.3 386.4,391.7 389.3,393.2C392.1,394.7 396.9,394.4 400.4,395.2C403.9,396.1 407.2,397.2 410.5,398.2C413.9,399.3 417.3,400.3 420.6,401.3C424.0,402.3 427.4,403.6 430.8,404.3C434.1,405.0 437.5,404.8 440.9,405.3C444.2,405.8 447.6,406.7 451.0,407.3C454.4,408.0 457.7,408.7 461.1,409.4C464.5,410.0 467.8,410.9 471.2,411.4C474.6,411.9 477.4,411.9 481.3,412.4C485.3,412.9 491.1,413.6 495.0,414.4C498.9,415.3 501.8,416.0 504.6,417.4C507.4,418.8 510.0,419.4 511.8,422.8C513.6,426.2 514.8,437.6 515.3,438.0C515.9,438.4 515.5,424.2 515.3,425.0C515.2,425.8 514.8,436.9 514.5,442.9C514.2,448.9 514.4,455.6 513.6,460.8C512.7,466.0 510.4,471.2 509.3,474.4C508.3,477.5 508.2,478.4 507.2,479.8C506.1,481.3 504.6,482.2 502.8,483.1C501.0,484.0 499.2,484.4 496.3,485.3C493.4,486.1 489.0,487.0 485.4,488.0C481.7,489.0 478.1,490.3 474.5,491.2C470.8,492.2 467.2,492.4 463.6,493.4C459.9,494.4 456.3,495.9 452.7,497.2C449.1,498.6 445.4,500.0 441.8,501.6C438.2,503.2 434.5,505.2 430.9,507.0C427.3,508.9 425.3,510.0 420.0,512.5C414.7,515.0 403.7,521.2 399.0,522.2C394.3,523.3 394.2,520.4 391.9,518.6C389.5,516.9 387.1,513.4 384.7,511.5C382.3,509.5 380.8,507.6 377.5,507.0C374.3,506.4 367.5,507.3 365.0,507.9C362.5,508.6 364.3,510.1 362.8,510.9C361.2,511.7 356.8,510.3 355.6,512.7C354.4,515.1 356.8,521.4 355.6,525.2C354.4,529.1 351.7,532.7 348.5,536.0C345.2,539.3 341.0,543.1 335.9,544.9C330.9,546.7 323.4,547.3 318.0,546.7C312.7,546.1 307.3,543.7 303.7,541.3C300.1,539.0 299.2,536.3 296.6,532.4C293.9,528.5 290.9,522.5 287.6,518.1C284.3,513.6 279.3,509.7 276.9,505.5C274.5,501.4 274.5,497.5 273.3,493.0C272.1,488.5 271.5,484.1 269.7,478.7C267.9,473.3 264.5,466.8 262.6,460.8C260.6,454.8 259.1,448.9 258.1,442.9C257.0,436.9 255.2,425.8 256.3,425.0C257.3,424.2 262.8,439.9 264.3,438.0C265.8,436.1 263.7,420.3 265.2,413.8C266.8,407.4 269.5,402.9 273.5,399.4Z" fill="#0030E0"/>
<path d="M284.0,433.9C287.3,432.2 294.5,429.8 300.1,428.6C305.8,427.4 312.1,427.1 318.0,426.8C324.0,426.5 330.6,425.3 335.9,426.8C341.3,428.3 346.4,433.1 350.3,435.7C354.1,438.4 355.6,442.0 359.2,442.9C362.8,443.8 370.8,441.7 371.7,441.1C372.7,440.5 364.9,439.6 365.0,439.3C365.1,439.0 369.8,438.7 372.2,439.3C374.5,439.9 376.0,440.8 379.3,442.9C382.6,445.0 388.3,448.6 391.8,451.8C395.4,455.1 399.0,459.3 400.8,462.6C402.6,465.9 403.2,468.9 402.6,471.5C402.0,474.2 399.6,476.3 397.2,478.7C394.8,481.1 391.8,483.8 388.3,485.9C384.7,487.9 379.6,489.7 375.7,491.2C371.9,492.7 367.2,493.6 365.0,494.8C362.8,496.0 366.1,497.5 362.8,498.4C359.4,499.3 350.9,499.6 344.9,500.2C338.9,500.8 333.0,502.0 327.0,502.0C321.0,502.0 313.9,501.7 309.1,500.2C304.3,498.7 301.6,496.0 298.3,493.0C295.1,490.0 292.1,486.2 289.4,482.3C286.7,478.4 283.9,474.8 282.2,469.7C280.6,464.7 279.9,456.9 279.6,451.8C279.3,446.8 279.7,442.3 280.5,439.3C281.2,436.3 280.7,435.7 284.0,433.9Z" fill="#001AB4"/>
</g>
<path d="M232.5,337.4 233.7,347.3 233.7,353.5 237.4,361.0 241.2,366.0 242.4,372.2 247.4,374.7 252.4,374.7 257.4,372.9 263.6,374.1 269.8,376.0 276.0,377.8 281.0,379.7 284.8,384.7 289.7,389.7 293.5,394.6 297.2,400.9 300.9,394.6 304.7,390.9 312.2,388.4 319.6,385.9 325.9,380.9 329.0,373.5 330.2,364.8 332.1,354.8 333.3,347.3 337.1,339.9 342.0,333.6 348.3,328.6 348.9,321.2 352.0,318.7 354.5,319.9 355.7,316.2 359.5,314.9 364.5,312.5 367.6,311.2 369.4,314.9 371.9,316.2 380.0,311.2 372.2,315.4 381.1,310.9 388.3,310.0 400.8,312.7 413.3,318.1 422.3,321.7 433.0,322.6 442.0,324.3 444.6,321.7 447.3,324.3 448.2,333.3 454.5,331.5 463.4,331.5 472.4,336.9 476.9,342.2 481.3,339.6 490.3,340.5 493.9,345.8 493.0,351.2 493.0,360.1 495.7,367.3 498.3,374.5 500.1,383.4 495.7,387.0 490.3,388.8 486.7,392.4 490.3,394.1 493.9,401.3 501.0,404.9 508.2,410.3 513.6,417.4 516.2,426.4 517.1,438.0 518.0,442.9 518.9,462.6 513.6,471.5 508.2,478.7 510.0,485.9 510.0,493.0 501.0,496.6 495.7,503.8 492.1,512.7 488.5,516.3 483.1,522.5 483.1,528.8 479.6,534.2 472.4,537.8 461.7,543.1 454.5,546.7 445.5,547.6 438.4,548.5 431.2,550.3 424.1,551.2 416.9,552.1 411.5,551.2 408.9,546.7 406.2,550.3 402.6,549.4 397.2,548.5 391.0,546.7 390.1,539.6 393.6,532.4 396.3,525.2 398.1,518.1 396.3,510.9 393.6,503.8 390.1,502.0 393.6,498.4 392.7,491.2 390.1,482.3 384.7,475.1 377.5,471.5 370.4,468.0 373.5,471.5 368.2,466.2 362.8,459.0 355.6,457.2 350.3,464.4 346.7,476.9 339.5,478.7 341.3,484.1 344.9,496.6 343.1,505.5 339.5,503.8 334.1,500.2 328.8,498.4 325.2,500.2 323.4,503.8 316.2,500.2 305.5,498.4 303.7,493.0 301.9,484.1 291.2,487.6 284.0,487.6 285.8,478.7 284.0,471.5 278.7,469.7 281.3,460.8 280.5,455.4 276.9,448.3 273.3,450.1 269.7,444.7 262.6,451.8 259.9,444.7 262.6,439.3 264.3,425.0 266.7,412.1 269.2,409.6 273.5,404.6 273.5,393.4 269.8,389.7 261.1,387.2 252.4,385.9 251.1,380.9 248.6,377.2 242.4,377.8 238.7,374.7 236.2,369.7 232.5,362.3 230.6,354.8 230.0,344.8 231.2,337.4 232.5,337.4" fill="none" stroke="#000" stroke-width="2" stroke-linejoin="round"/>
<path d="M247.4,388.4 269.8,389.7 272.3,394.6 272.3,403.4 267.3,405.9 259.9,404.6 257.4,394.6 249.9,392.2 247.4,388.4" fill="none" stroke="#000" stroke-width="2" stroke-linejoin="round"/>
<ellipse cx="238.7" cy="302.5" rx="2.5" ry="1.2" fill="#000" stroke="#000" stroke-width="1"/>
<ellipse cx="221.5" cy="344.0" rx="1.0" ry="4.5" fill="#000" stroke="#000" stroke-width="1"/>
<ellipse cx="351.5" cy="494.0" rx="1.5" ry="3.0" fill="#000" stroke="#000" stroke-width="1"/>
<ellipse cx="252.5" cy="399.5" rx="1.8" ry="1.8" fill="#000" stroke="#000" stroke-width="1"/>
<ellipse cx="230.5" cy="346.0" rx="1.5" ry="2.5" fill="#000" stroke="#000" stroke-width="1"/>
<ellipse cx="231.0" cy="360.0" rx="1.5" ry="2.0" fill="#000" stroke="#000" stroke-width="1"/>
<circle cx="371.5" cy="432" r="222" fill="none" stroke="#000" stroke-width="1.5"/>
<clipPath id="clipb"><circle cx="840.5" cy="432" r="222"/></clipPath>
<g clip-path="url(#clipb)">
<circle cx="840.5" cy="432" r="222" fill="#FFCDB4"/>
<path d="M641.2,357.5 643.0,386.1 648.4,421.9 655.5,457.7 666.3,493.5 677.0,522.2 691.3,550.8 709.2,575.9 727.1,593.8 752.2,608.1 780.8,618.8 809.5,622.4 838.1,626.0 866.7,624.2 895.4,618.8 924.0,608.1 949.1,597.4 974.1,583.0 995.6,565.1 1017.1,543.7 1035.0,522.2 1047.5,507.9 1110.2,522.2 1110.2,701.2 573.2,701.2 573.2,357.5Z" fill="#FFAA80"/>
<path d="M691.3,289.5C697.9,278.8 713.4,259.1 723.6,250.1C733.7,241.2 742.6,239.7 752.2,235.8C761.7,231.9 771.3,228.9 780.8,226.8C790.4,224.8 799.3,224.2 809.5,223.3C819.6,222.4 830.9,221.5 841.7,221.5C852.4,221.5 863.8,222.1 873.9,223.3C884.0,224.5 893.0,226.0 902.5,228.6C912.1,231.3 922.2,235.2 931.2,239.4C940.1,243.6 947.9,248.3 956.2,253.7C964.6,259.1 973.5,265.0 981.3,271.6C989.0,278.2 996.2,285.9 1002.8,293.1C1009.3,300.2 1015.3,306.2 1020.7,314.6C1026.0,322.9 1031.1,333.6 1035.0,343.2C1038.9,352.7 1041.9,362.3 1043.9,371.8C1046.0,381.4 1046.6,390.9 1047.5,400.5C1048.4,410.0 1049.3,419.6 1049.3,429.1C1049.3,438.6 1048.7,448.2 1047.5,457.7C1046.3,467.3 1044.8,477.4 1042.1,486.4C1039.5,495.3 1035.6,503.7 1031.4,511.4C1027.2,519.2 1022.5,525.8 1017.1,532.9C1011.7,540.1 1005.8,547.8 999.2,554.4C992.6,561.0 985.5,566.9 977.7,572.3C970.0,577.7 961.6,582.4 952.7,586.6C943.7,590.8 933.6,594.4 924.0,597.4C914.5,600.3 904.9,602.7 895.4,604.5C885.8,606.3 876.3,607.2 866.7,608.1C857.2,609.0 847.6,609.9 838.1,609.9C828.6,609.9 819.0,609.3 809.5,608.1C799.9,606.9 790.4,605.1 780.8,602.7C771.3,600.3 760.5,597.6 752.2,593.8C743.8,589.9 737.3,584.8 730.7,579.5C724.1,574.1 718.2,568.1 712.8,561.6C707.4,555.0 703.0,547.8 698.5,540.1C694.0,532.3 689.2,524.0 686.0,515.0C682.7,506.1 680.9,495.9 678.8,486.4C676.7,476.8 674.9,467.3 673.4,457.7C671.9,448.2 670.5,438.6 669.9,429.1C669.3,419.6 669.6,410.0 669.9,400.5C670.2,390.9 670.5,381.4 671.6,371.8C672.8,362.3 674.9,352.7 677.0,343.2C679.1,333.6 681.8,323.5 684.2,314.6C686.6,305.6 684.8,300.2 691.3,289.5Z" fill="#FFEAD7"/>
<path d="M716.4,311.0C720.0,304.4 724.7,296.1 730.7,289.5C736.7,282.9 744.4,276.4 752.2,271.6C759.9,266.8 768.3,263.2 777.2,260.9C786.2,258.5 795.7,258.2 805.9,257.3C816.0,256.4 828.0,255.5 838.1,255.5C848.2,255.5 857.2,255.8 866.7,257.3C876.3,258.8 886.4,261.5 895.4,264.4C904.3,267.4 912.1,271.0 920.4,275.2C928.8,279.4 937.7,284.1 945.5,289.5C953.3,294.9 959.8,300.8 967.0,307.4C974.1,314.0 981.9,321.1 988.5,328.9C995.0,336.6 1001.6,345.0 1006.4,353.9C1011.1,362.9 1014.4,373.0 1017.1,382.6C1019.8,392.1 1021.6,401.7 1022.5,411.2C1023.4,420.8 1023.4,430.3 1022.5,439.8C1021.6,449.4 1019.8,458.9 1017.1,468.5C1014.4,478.0 1010.5,488.2 1006.4,497.1C1002.2,506.1 998.0,514.4 992.0,522.2C986.1,529.9 978.3,537.1 970.6,543.7C962.8,550.2 954.4,556.2 945.5,561.6C936.5,566.9 926.4,572.3 916.9,575.9C907.3,579.5 897.8,581.2 888.2,583.0C878.7,584.8 869.1,586.3 859.6,586.6C850.0,586.9 840.5,586.0 830.9,584.8C821.4,583.6 811.9,582.1 802.3,579.5C792.8,576.8 782.6,572.9 773.7,568.7C764.7,564.5 756.4,559.8 748.6,554.4C740.9,549.0 733.1,543.1 727.1,536.5C721.2,529.9 717.0,522.8 712.8,515.0C708.6,507.3 704.8,498.9 702.1,490.0C699.4,481.0 697.9,470.9 696.7,461.3C695.5,451.8 695.2,442.2 694.9,432.7C694.6,423.1 694.6,413.0 694.9,404.0C695.2,395.1 695.5,387.9 696.7,379.0C697.9,370.0 700.0,358.7 702.1,350.3C704.2,342.0 706.8,335.4 709.2,328.9C711.6,322.3 712.8,317.5 716.4,311.0Z" fill="#D7E9FF"/>
<path d="M740.0,337.5C744.8,329.7 756.2,319.6 762.9,314.6C769.7,309.5 772.7,312.5 780.5,307.4C788.2,302.3 801.1,288.6 809.5,284.1C817.9,279.6 823.8,281.1 830.9,280.5C838.1,279.9 845.3,279.9 852.4,280.5C859.6,281.1 866.7,282.0 873.9,284.1C881.1,286.2 888.2,290.4 895.4,293.1C902.5,295.8 909.7,297.2 916.9,300.2C924.0,303.2 931.8,306.8 938.3,311.0C944.9,315.1 950.9,319.9 956.2,325.3C961.6,330.7 966.4,337.2 970.6,343.2C974.7,349.2 978.0,355.5 981.3,361.1C984.6,366.7 988.7,369.1 990.6,376.8C992.5,384.6 992.4,398.3 992.7,407.6C993.1,416.9 993.3,424.3 992.7,432.7C992.2,441.0 990.8,448.8 989.2,457.7C987.5,466.7 985.2,478.0 982.7,486.4C980.2,494.7 978.0,501.3 974.1,507.9C970.3,514.4 964.6,520.4 959.8,525.8C955.0,531.1 951.5,536.2 945.5,540.1C939.5,544.0 931.3,546.0 924.0,549.0C916.7,552.0 910.8,555.3 901.8,558.0C892.9,560.7 879.7,563.9 870.3,565.1C860.9,566.3 853.0,566.3 845.3,565.1C837.5,563.9 831.2,561.7 823.8,558.0C816.3,554.3 807.7,547.4 800.5,542.9C793.4,538.5 786.9,536.9 780.8,531.1C774.8,525.4 769.7,515.4 764.4,508.6C759.0,501.7 752.7,497.1 748.6,490.0C744.6,482.9 743.0,473.1 740.0,466.0C737.0,458.8 732.9,453.1 730.7,447.0C728.6,440.9 727.7,436.3 727.1,429.1C726.5,421.9 726.5,411.8 727.1,404.0C727.7,396.3 729.5,389.7 730.7,382.6C731.9,375.4 732.7,368.6 734.3,361.1C735.8,353.6 735.2,345.2 740.0,337.5Z" fill="#B4CDFF"/>
<path d="M748.1,391.1C747.8,394.1 757.2,400.2 758.2,405.2C759.2,410.3 755.2,416.0 754.2,421.4C753.2,426.8 751.8,432.2 752.1,437.6C752.5,443.0 754.5,448.4 756.2,453.8C757.9,459.2 760.6,465.3 762.3,470.0C763.9,474.7 764.3,478.4 766.3,482.1C768.3,485.8 771.0,489.2 774.4,492.2C777.8,495.3 782.2,498.3 786.5,500.3C790.9,502.3 795.6,503.0 800.7,504.4C805.8,505.7 812.8,506.7 816.9,508.4C820.9,510.1 823.5,510.8 825.0,514.5C826.5,518.2 824.3,526.6 826.0,530.7C827.7,534.7 831.2,536.9 835.1,538.8C839.0,540.6 844.2,540.6 849.3,541.8C854.3,543.0 860.1,544.5 865.5,545.9C870.9,547.2 875.6,549.1 881.6,549.9C887.7,550.7 895.1,551.2 901.9,550.9C908.6,550.6 915.4,549.6 922.1,547.9C928.9,546.2 935.6,544.0 942.3,540.8C949.1,537.6 957.2,533.4 962.6,528.7C968.0,523.9 971.4,518.5 974.7,512.5C978.1,506.4 980.8,499.0 982.8,492.2C984.8,485.5 985.9,478.7 986.9,472.0C987.9,465.3 988.5,458.5 988.9,451.8C989.2,445.0 989.6,437.9 988.9,431.5C988.2,425.1 986.5,419.0 984.8,413.3C983.2,407.6 981.5,401.5 978.8,397.1C976.1,392.7 971.4,391.4 968.7,387.0C966.0,382.6 964.3,376.2 962.6,370.8C960.9,365.4 960.6,359.7 958.5,354.6C956.5,349.6 953.8,344.5 950.4,340.5C947.1,336.4 943.0,333.4 938.3,330.4C933.6,327.3 928.2,324.6 922.1,322.3C916.0,319.9 908.6,318.2 901.9,316.2C895.1,314.2 888.4,311.5 881.6,310.1C874.9,308.8 868.2,308.4 861.4,308.1C854.7,307.8 847.2,307.4 841.2,308.1C835.1,308.8 829.7,310.1 825.0,312.1C820.3,314.2 816.2,317.2 812.8,320.2C809.5,323.3 806.8,326.3 804.8,330.4C802.7,334.4 801.7,339.5 800.7,344.5C799.7,349.6 799.7,357.0 798.7,360.7C797.7,364.4 797.7,365.1 794.6,366.8C791.6,368.5 784.2,369.1 780.5,370.8C776.8,372.5 774.1,374.2 772.4,376.9C770.7,379.6 772.4,385.3 770.4,387.0C768.3,388.7 763.9,386.3 760.2,387.0C756.5,387.7 748.4,388.0 748.1,391.1Z" fill="#80AAFF"/>
<path d="M766.3,431.5C766.6,427.5 769.0,423.8 772.4,421.4C775.7,419.0 781.8,419.4 786.5,417.4C791.3,415.3 796.7,412.0 800.7,409.3C804.8,406.6 808.8,405.2 810.8,401.2C812.8,397.1 812.8,391.7 812.8,385.0C812.8,378.2 810.8,368.1 810.8,360.7C810.8,353.3 810.8,345.5 812.8,340.5C814.9,335.4 819.3,333.1 823.0,330.4C826.7,327.7 830.4,326.1 835.1,324.3C839.8,322.4 845.2,320.1 851.3,319.2C857.4,318.4 864.8,318.7 871.5,319.2C878.3,319.7 885.0,320.4 891.8,322.3C898.5,324.1 905.9,327.3 912.0,330.4C918.1,333.4 923.1,337.1 928.2,340.5C933.2,343.8 938.3,347.2 942.3,350.6C946.4,354.0 950.4,356.3 952.5,360.7C954.5,365.1 955.5,372.8 954.5,376.9C953.5,380.9 950.1,383.0 946.4,385.0C942.7,387.0 934.9,387.3 932.2,389.0C929.5,390.7 928.5,393.1 930.2,395.1C931.9,397.1 937.6,399.5 942.3,401.2C947.1,402.9 953.8,403.2 958.5,405.2C963.3,407.2 967.6,409.3 970.7,413.3C973.7,417.4 975.6,424.1 976.7,429.5C977.9,434.9 978.1,440.3 977.8,445.7C977.4,451.1 976.2,456.5 974.7,461.9C973.2,467.3 971.0,472.7 968.7,478.1C966.3,483.5 963.3,488.9 960.6,494.3C957.9,499.6 955.5,506.1 952.5,510.4C949.4,514.8 946.4,517.9 942.3,520.6C938.3,523.3 933.2,524.9 928.2,526.6C923.1,528.3 918.1,529.7 912.0,530.7C905.9,531.7 897.5,532.7 891.8,532.7C886.0,532.7 881.0,533.0 877.6,530.7C874.2,528.3 873.2,523.3 871.5,518.5C869.8,513.8 869.2,507.1 867.5,502.3C865.8,497.6 863.4,494.3 861.4,490.2C859.4,486.2 858.0,481.4 855.3,478.1C852.6,474.7 849.3,472.0 845.2,470.0C841.2,467.9 835.8,466.6 831.1,465.9C826.3,465.3 822.0,465.6 816.9,465.9C811.8,466.3 805.8,467.6 800.7,467.9C795.6,468.3 790.6,469.3 786.5,467.9C782.5,466.6 779.1,463.6 776.4,459.9C773.7,456.1 772.0,450.4 770.4,445.7C768.7,441.0 766.0,435.6 766.3,431.5Z" fill="#4178FF"/>
<path d="M790.6,435.6C791.6,432.9 796.3,431.2 800.7,429.5C805.1,427.8 812.8,427.1 816.9,425.5C820.9,423.8 824.3,423.4 825.0,419.4C825.7,415.3 822.0,408.3 820.9,401.2C819.9,394.1 818.9,384.3 818.9,376.9C818.9,369.5 819.9,362.7 820.9,356.7C822.0,350.6 822.6,344.5 825.0,340.5C827.3,336.4 831.1,334.4 835.1,332.4C839.2,330.4 843.2,329.0 849.3,328.3C855.3,327.7 864.1,327.7 871.5,328.3C878.9,329.0 887.0,330.4 893.8,332.4C900.5,334.4 906.9,337.4 912.0,340.5C917.1,343.5 920.4,347.2 924.1,350.6C927.8,354.0 931.2,357.3 934.3,360.7C937.3,364.1 940.7,367.4 942.3,370.8C944.0,374.2 946.7,377.6 944.4,380.9C942.0,384.3 931.9,387.7 928.2,391.1C924.5,394.4 921.1,398.5 922.1,401.2C923.1,403.9 929.2,405.2 934.3,407.2C939.3,409.3 947.7,411.0 952.5,413.3C957.2,415.7 960.2,417.4 962.6,421.4C964.9,425.5 966.3,432.2 966.6,437.6C967.0,443.0 966.0,448.4 964.6,453.8C963.3,459.2 960.9,464.6 958.5,470.0C956.2,475.4 953.1,481.1 950.4,486.2C947.7,491.2 945.4,495.9 942.3,500.3C939.3,504.7 936.3,509.1 932.2,512.5C928.2,515.8 923.1,518.9 918.1,520.6C913.0,522.2 907.3,522.2 901.9,522.6C896.5,522.9 889.7,523.9 885.7,522.6C881.6,521.2 880.0,518.2 877.6,514.5C875.2,510.8 873.5,505.0 871.5,500.3C869.5,495.6 867.8,490.5 865.5,486.2C863.1,481.8 860.4,477.7 857.4,474.0C854.3,470.3 851.0,466.3 847.2,463.9C843.5,461.5 838.5,461.2 835.1,459.9C831.7,458.5 829.4,457.5 827.0,455.8C824.6,454.1 824.3,451.1 820.9,449.7C817.6,448.4 811.2,448.4 806.8,447.7C802.4,447.0 797.3,447.7 794.6,445.7C791.9,443.7 789.6,438.3 790.6,435.6Z" fill="#1E50FF"/>
<path d="M840.6,421.4 840.6,356.7 853.3,354.6 855.3,334.4 871.5,334.4 893.8,338.4 912.0,348.6 922.1,360.7 926.2,368.8 922.1,380.9 920.1,395.1 932.2,403.2 952.5,411.3 958.5,421.4 959.5,437.6 954.5,447.7 942.3,457.8 932.2,465.9 922.1,482.1 920.1,494.3 910.0,502.3 897.8,506.4 885.7,500.3 877.6,488.2 865.5,472.0 855.3,457.8 847.2,445.7Z" fill="#0030E0"/>
</g>
<path d="M701.5,337.4 702.7,347.3 702.7,353.5 706.4,361.0 710.2,366.0 711.4,372.2 716.4,374.7 721.4,374.7 726.4,372.9 732.6,374.1 738.8,376.0 745.0,377.8 750.0,379.7 753.8,384.7 758.7,389.7 762.5,394.6 766.2,400.9 769.9,394.6 773.7,390.9 781.2,388.4 788.6,385.9 794.9,380.9 798.0,373.5 799.2,364.8 801.1,354.8 802.3,347.3 806.1,339.9 811.0,333.6 817.3,328.6 817.9,321.2 821.0,318.7 823.5,319.9 824.7,316.2 828.5,314.9 833.5,312.5 836.6,311.2 838.4,314.9 840.9,316.2 849.0,311.2 841.2,315.4 850.1,310.9 857.3,310.0 869.8,312.7 882.3,318.1 891.3,321.7 902.0,322.6 911.0,324.3 913.6,321.7 916.3,324.3 917.2,333.3 923.5,331.5 932.4,331.5 941.4,336.9 945.9,342.2 950.3,339.6 959.3,340.5 962.9,345.8 962.0,351.2 962.0,360.1 964.7,367.3 967.3,374.5 969.1,383.4 964.7,387.0 959.3,388.8 955.7,392.4 959.3,394.1 962.9,401.3 970.0,404.9 977.2,410.3 982.6,417.4 985.2,426.4 986.1,438.0 987.0,442.9 987.9,462.6 982.6,471.5 977.2,478.7 979.0,485.9 979.0,493.0 970.0,496.6 964.7,503.8 961.1,512.7 957.5,516.3 952.1,522.5 952.1,528.8 948.6,534.2 941.4,537.8 930.7,543.1 923.5,546.7 914.5,547.6 907.4,548.5 900.2,550.3 893.1,551.2 885.9,552.1 880.5,551.2 877.9,546.7 875.2,550.3 871.6,549.4 866.2,548.5 860.0,546.7 859.1,539.6 862.6,532.4 865.3,525.2 867.1,518.1 865.3,510.9 862.6,503.8 859.1,502.0 862.6,498.4 861.7,491.2 859.1,482.3 853.7,475.1 846.5,471.5 839.4,468.0 842.5,471.5 837.2,466.2 831.8,459.0 824.6,457.2 819.3,464.4 815.7,476.9 808.5,478.7 810.3,484.1 813.9,496.6 812.1,505.5 808.5,503.8 803.1,500.2 797.8,498.4 794.2,500.2 792.4,503.8 785.2,500.2 774.5,498.4 772.7,493.0 770.9,484.1 760.2,487.6 753.0,487.6 754.8,478.7 753.0,471.5 747.7,469.7 750.3,460.8 749.5,455.4 745.9,448.3 742.3,450.1 738.7,444.7 731.6,451.8 728.9,444.7 731.6,439.3 733.3,425.0 735.7,412.1 738.2,409.6 742.5,404.6 742.5,393.4 738.8,389.7 730.1,387.2 721.4,385.9 720.1,380.9 717.6,377.2 711.4,377.8 707.7,374.7 705.2,369.7 701.5,362.3 699.6,354.8 699.0,344.8 700.2,337.4 701.5,337.4" fill="none" stroke="#000" stroke-width="2" stroke-linejoin="round"/>
<path d="M716.4,388.4 738.8,389.7 741.3,394.6 741.3,403.4 736.3,405.9 728.9,404.6 726.4,394.6 718.9,392.2 716.4,388.4" fill="none" stroke="#000" stroke-width="2" stroke-linejoin="round"/>
<ellipse cx="707.7" cy="302.5" rx="2.5" ry="1.2" fill="#000" stroke="#000" stroke-width="1"/>
<ellipse cx="690.5" cy="344.0" rx="1.0" ry="4.5" fill="#000" stroke="#000" stroke-width="1"/>
<ellipse cx="820.5" cy="494.0" rx="1.5" ry="3.0" fill="#000" stroke="#000" stroke-width="1"/>
<ellipse cx="721.5" cy="399.5" rx="1.8" ry="1.8" fill="#000" stroke="#000" stroke-width="1"/>
<ellipse cx="699.5" cy="346.0" rx="1.5" ry="2.5" fill="#000" stroke="#000" stroke-width="1"/>
<ellipse cx="700.0" cy="360.0" rx="1.5" ry="2.0" fill="#000" stroke="#000" stroke-width="1"/>
<circle cx="840.5" cy="432.1" r="12.8" fill="#fff"/>
<circle cx="840.5" cy="432" r="222" fill="none" stroke="#000" stroke-width="1.5"/>
<clipPath id="clipc"><circle cx="606" cy="1154.6" r="222"/></clipPath>
<g clip-path="url(#clipc)">
<circle cx="606" cy="1154.6" r="222" fill="#4178FF"/>
<path d="M667.0,963.2 681.3,968.6 699.2,975.7 715.3,982.9 731.5,991.9 745.8,1002.6 760.1,1016.9 772.6,1031.2 785.1,1047.3 795.9,1065.2 804.8,1083.1 812.0,1101.0 817.4,1118.9 820.0,1136.8 820.9,1161.0 820.9,1148.0 819.2,1156.9 817.4,1174.8 815.6,1192.7 813.8,1210.6 810.2,1228.5 804.8,1244.7 797.7,1259.0 788.7,1273.3 778.0,1284.0 765.5,1294.8 751.1,1305.5 733.2,1314.5 706.4,1319.8 679.5,1323.4 652.7,1328.8 634.8,1337.7 599.0,1341.3 579.9,1344.9 562.0,1339.5 549.5,1332.4 540.5,1319.8 526.2,1309.1 511.9,1301.9 508.3,1294.8 497.6,1278.7 483.2,1273.3 465.3,1264.3 461.8,1253.6 449.2,1241.1 434.9,1232.1 424.2,1239.3 408.1,1255.4 393.7,1216.0 399.1,1207.1 402.7,1194.5 413.4,1183.8 411.6,1171.3 400.9,1160.5 386.6,1155.2 393.7,1135.0 383.0,1131.5 365.1,1131.5 365.1,913.1 667.0,913.1Z" fill="#80AAFF"/>
<path d="M640.2,922.1C635.1,925.3 638.1,936.4 640.2,941.7C642.3,947.1 648.2,951.6 652.7,954.3C657.2,957.0 662.2,956.7 667.0,957.8C671.8,959.0 676.0,959.6 681.3,961.4C686.7,963.2 693.3,965.9 699.2,968.6C705.2,971.3 711.2,974.6 717.1,977.5C723.1,980.5 729.4,983.2 735.0,986.5C740.7,989.8 746.4,993.6 751.1,997.2C755.9,1000.8 759.2,1005.6 763.7,1008.0C768.1,1010.4 775.6,1015.4 778.0,1011.5C780.4,1007.7 789.9,998.1 778.0,984.7C766.1,971.3 724.3,941.4 706.4,931.0C688.5,920.6 681.6,923.5 670.6,922.1C659.6,920.6 645.2,918.8 640.2,922.1Z" fill="#1E50FF"/>
<path d="M643.7,1389.6C625.8,1383.7 647.6,1361.3 652.7,1353.8C657.8,1346.4 666.7,1347.3 674.2,1344.9C681.6,1342.5 689.7,1341.3 697.4,1339.5C705.2,1337.7 713.8,1336.2 720.7,1334.1C727.6,1332.1 734.1,1331.2 738.6,1327.0C743.1,1322.8 744.6,1315.1 747.6,1309.1C750.5,1303.1 752.6,1295.4 756.5,1291.2C760.4,1287.0 765.8,1283.4 770.8,1284.0C775.9,1284.6 781.3,1290.6 786.9,1294.8C792.6,1298.9 809.3,1293.3 804.8,1309.1C800.4,1324.9 786.9,1376.2 760.1,1389.6C733.2,1403.1 661.6,1395.6 643.7,1389.6Z" fill="#1E50FF"/>
<path d="M436.7,1309.1C440.9,1293.3 440.0,1300.1 443.9,1294.8C447.7,1289.4 456.1,1279.3 460.0,1276.9C463.8,1274.5 465.3,1278.1 467.1,1280.5C468.9,1282.8 468.0,1287.0 470.7,1291.2C473.4,1295.4 480.0,1301.6 483.2,1305.5C486.5,1309.4 486.8,1310.9 490.4,1314.5C494.0,1318.0 501.7,1323.4 504.7,1327.0C507.7,1330.6 507.7,1325.5 508.3,1335.9C508.9,1346.4 523.2,1380.7 508.3,1389.6C493.4,1398.6 430.7,1403.1 418.8,1389.6C406.9,1376.2 432.5,1324.9 436.7,1309.1Z" fill="#1E50FF"/>
<path d="M683.1,979.3C685.5,977.5 693.9,980.2 699.2,981.1C704.6,982.0 709.7,982.6 715.3,984.7C721.0,986.8 727.3,990.1 733.2,993.6C739.2,997.2 745.8,1002.0 751.1,1006.2C756.5,1010.4 761.0,1014.5 765.5,1018.7C769.9,1022.9 774.1,1026.8 778.0,1031.2C781.9,1035.7 785.7,1040.8 788.7,1045.6C791.7,1050.3 793.5,1054.5 795.9,1059.9C798.3,1065.2 801.0,1071.8 803.0,1077.8C805.1,1083.7 807.1,1088.8 808.4,1095.7C809.8,1102.5 810.5,1108.0 811.1,1118.9C811.7,1129.8 811.8,1156.2 812.0,1161.0C812.1,1165.8 812.3,1147.2 812.0,1148.0C811.7,1148.8 811.1,1159.9 810.2,1165.9C809.3,1171.9 807.8,1177.8 806.6,1183.8C805.4,1189.8 804.5,1195.7 803.0,1201.7C801.6,1207.7 799.8,1214.2 797.7,1219.6C795.6,1225.0 793.2,1229.1 790.5,1233.9C787.8,1238.7 784.8,1244.1 781.6,1248.2C778.3,1252.4 773.2,1259.0 770.8,1259.0C768.4,1259.0 766.4,1252.4 767.2,1248.2C768.1,1244.1 773.5,1238.7 776.2,1233.9C778.9,1229.1 781.6,1225.0 783.4,1219.6C785.1,1214.2 786.0,1207.7 786.9,1201.7C787.8,1195.7 788.4,1189.8 788.7,1183.8C789.0,1177.8 788.7,1171.9 788.7,1165.9C788.7,1159.9 788.7,1148.8 788.7,1148.0C788.7,1147.2 789.0,1162.9 788.7,1161.0C788.4,1159.1 788.1,1143.8 786.9,1136.8C785.7,1129.8 783.7,1124.6 781.6,1118.9C779.5,1113.3 777.4,1107.9 774.4,1102.8C771.4,1097.8 767.2,1093.3 763.7,1088.5C760.1,1083.7 757.1,1079.0 752.9,1074.2C748.8,1069.4 743.4,1064.0 738.6,1059.9C733.8,1055.7 729.1,1052.1 724.3,1049.1C719.5,1046.1 713.8,1044.7 710.0,1042.0C706.1,1039.3 703.4,1036.6 701.0,1033.0C698.6,1029.4 697.4,1025.0 695.7,1020.5C693.9,1016.0 692.1,1010.9 690.3,1006.2C688.5,1001.4 686.1,996.3 684.9,991.9C683.7,987.4 680.7,981.1 683.1,979.3Z" fill="#B4CDFF"/>
<path d="M695.7,988.3C697.7,986.2 705.2,988.9 710.0,990.1C714.7,991.3 719.5,992.8 724.3,995.4C729.1,998.1 734.1,1002.6 738.6,1006.2C743.1,1009.8 747.0,1012.7 751.1,1016.9C755.3,1021.1 760.4,1026.5 763.7,1031.2C766.9,1036.0 768.1,1041.4 770.8,1045.6C773.5,1049.7 776.8,1052.1 779.8,1056.3C782.8,1060.5 786.0,1065.2 788.7,1070.6C791.4,1076.0 793.8,1081.9 795.9,1088.5C798.0,1095.1 799.9,1101.9 801.3,1110.0C802.6,1118.0 803.3,1128.3 803.9,1136.8C804.5,1145.3 804.7,1159.1 804.8,1161.0C805.0,1162.9 805.1,1145.7 804.8,1148.0C804.5,1150.3 803.9,1166.5 803.0,1174.8C802.2,1183.2 801.0,1191.3 799.5,1198.1C798.0,1205.0 796.2,1210.6 794.1,1216.0C792.0,1221.4 789.6,1226.2 786.9,1230.3C784.3,1234.5 779.5,1241.1 778.0,1241.1C776.5,1241.1 777.1,1234.5 778.0,1230.3C778.9,1226.2 782.2,1221.4 783.4,1216.0C784.5,1210.6 785.1,1205.0 785.1,1198.1C785.1,1191.3 784.0,1183.2 783.4,1174.8C782.8,1166.5 781.9,1150.3 781.6,1148.0C781.3,1145.7 782.2,1162.9 781.6,1161.0C781.0,1159.1 779.8,1144.1 778.0,1136.8C776.2,1129.5 773.8,1123.4 770.8,1117.1C767.8,1110.9 763.7,1104.6 760.1,1099.2C756.5,1093.9 752.9,1089.1 749.3,1084.9C745.8,1080.8 742.2,1077.8 738.6,1074.2C735.0,1070.6 731.7,1066.7 727.9,1063.5C724.0,1060.2 718.9,1057.5 715.3,1054.5C711.8,1051.5 708.5,1049.4 706.4,1045.6C704.3,1041.7 704.0,1036.0 702.8,1031.2C701.6,1026.5 700.1,1021.7 699.2,1016.9C698.3,1012.1 698.0,1007.4 697.4,1002.6C696.8,997.8 693.6,990.4 695.7,988.3Z" fill="#D7E9FF"/>
<path d="M715.3,1000.8C716.5,999.9 720.4,1000.2 724.3,1002.6C728.2,1005.0 733.8,1010.4 738.6,1015.1C743.4,1019.9 749.3,1026.2 752.9,1031.2C756.5,1036.3 759.8,1043.8 760.1,1045.6C760.4,1047.3 757.7,1044.7 754.7,1042.0C751.7,1039.3 746.7,1033.6 742.2,1029.4C737.7,1025.3 732.0,1020.5 727.9,1016.9C723.7,1013.3 719.2,1010.6 717.1,1008.0C715.0,1005.3 714.1,1001.7 715.3,1000.8Z" fill="#FFEAD7"/>
<path d="M765.5,1054.5C765.8,1052.7 768.7,1053.6 770.8,1056.3C772.9,1059.0 776.2,1066.1 778.0,1070.6C779.8,1075.1 781.9,1081.9 781.6,1083.1C781.3,1084.3 778.3,1080.5 776.2,1077.8C774.1,1075.1 770.8,1070.9 769.0,1067.0C767.2,1063.2 765.2,1056.3 765.5,1054.5Z" fill="#FFEAD7"/>
<path d="M785.1,1216.0C786.3,1214.5 787.2,1207.1 788.7,1201.7C790.2,1196.3 792.6,1189.8 794.1,1183.8C795.6,1177.8 796.8,1171.9 797.7,1165.9C798.6,1159.9 799.8,1151.0 799.5,1148.0C799.2,1145.0 797.4,1144.4 795.9,1148.0C794.4,1151.6 792.3,1162.0 790.5,1169.5C788.7,1176.9 786.6,1185.9 785.1,1192.7C783.7,1199.6 781.6,1206.8 781.6,1210.6C781.6,1214.5 784.0,1217.5 785.1,1216.0Z" fill="#FFEAD7"/>
<path d="M793.2,1142.2C793.5,1138.5 795.0,1137.4 795.9,1138.6C796.8,1139.8 798.3,1145.6 798.6,1149.4C798.9,1153.1 798.4,1159.1 797.7,1161.0C796.9,1162.9 794.8,1164.1 794.1,1161.0C793.3,1157.9 792.9,1145.9 793.2,1142.2Z" fill="#FFEAD7"/>
<path d="M540.5,1327.0C539.6,1321.6 544.1,1315.9 547.7,1312.7C551.2,1309.4 556.6,1308.5 562.0,1307.3C567.4,1306.1 573.9,1306.1 579.9,1305.5C585.9,1304.9 592.3,1304.0 597.8,1303.7C603.3,1303.4 606.8,1303.4 613.0,1303.7C619.2,1304.0 626.7,1304.6 634.8,1305.5C642.9,1306.4 654.2,1307.0 661.6,1309.1C669.1,1311.2 675.1,1315.1 679.5,1318.0C684.0,1321.0 690.0,1324.3 688.5,1327.0C687.0,1329.7 679.5,1332.4 670.6,1334.1C661.6,1335.9 646.7,1336.5 634.8,1337.7C622.9,1338.9 608.2,1338.6 599.0,1341.3C589.8,1344.0 587.5,1353.2 579.9,1353.8C572.2,1354.4 559.6,1349.4 553.0,1344.9C546.5,1340.4 541.4,1332.4 540.5,1327.0Z" fill="#B4CDFF"/>
<path d="M570.9,1319.8C573.0,1317.1 581.8,1314.2 588.8,1312.7C595.8,1311.2 606.8,1310.6 613.0,1310.9C619.2,1311.2 620.7,1313.0 625.8,1314.5C631.0,1315.9 642.3,1317.1 643.7,1319.8C645.2,1322.5 642.3,1328.2 634.8,1330.6C627.3,1333.0 606.7,1333.0 599.0,1334.1C591.3,1335.3 592.6,1338.6 588.8,1337.7C585.1,1336.8 579.3,1331.8 576.3,1328.8C573.3,1325.8 568.8,1322.5 570.9,1319.8Z" fill="#D7E9FF"/>
<path d="M590.6,1325.2C590.6,1323.7 600.0,1321.5 603.2,1320.7C606.3,1320.0 607.7,1320.0 609.7,1320.7C611.7,1321.5 615.4,1323.9 615.1,1325.2C614.8,1326.5 609.9,1328.0 607.9,1328.8C606.0,1329.5 606.0,1330.3 603.2,1329.7C600.3,1329.1 590.6,1326.7 590.6,1325.2Z" fill="#FFEAD7"/>
<path d="M620.5,1144.4C625.3,1142.6 641.4,1146.8 652.7,1148.0C664.0,1149.2 678.1,1151.3 688.5,1151.6C698.9,1151.9 709.4,1150.4 715.3,1149.8C721.3,1149.2 722.5,1145.9 724.3,1148.0C726.1,1150.1 726.4,1156.9 726.1,1162.3C725.8,1167.7 723.7,1174.3 722.5,1180.2C721.3,1186.2 720.1,1192.7 718.9,1198.1C717.7,1203.5 716.2,1207.7 715.3,1212.4C714.4,1217.2 713.3,1222.0 713.6,1226.8C713.8,1231.5 714.7,1237.5 717.1,1241.1C719.5,1244.7 723.7,1248.2 727.9,1248.2C732.0,1248.2 736.8,1243.8 742.2,1241.1C747.6,1238.4 754.1,1234.5 760.1,1232.1C766.1,1229.7 774.1,1226.5 778.0,1226.8C781.9,1227.1 783.4,1230.3 783.4,1233.9C783.4,1237.5 781.3,1244.1 778.0,1248.2C774.7,1252.4 768.1,1254.8 763.7,1259.0C759.2,1263.1 755.3,1267.9 751.1,1273.3C747.0,1278.7 743.1,1285.8 738.6,1291.2C734.1,1296.6 729.7,1301.9 724.3,1305.5C718.9,1309.1 712.4,1311.2 706.4,1312.7C700.4,1314.2 692.7,1315.7 688.5,1314.5C684.3,1313.3 683.1,1309.4 681.3,1305.5C679.5,1301.6 677.8,1296.0 677.8,1291.2C677.8,1286.4 680.1,1281.0 681.3,1276.9C682.5,1272.7 686.1,1268.5 684.9,1266.1C683.7,1263.7 678.1,1263.7 674.2,1262.6C670.3,1261.4 665.2,1261.4 661.6,1259.0C658.1,1256.6 654.8,1252.7 652.7,1248.2C650.6,1243.8 650.0,1237.5 649.1,1232.1C648.2,1226.8 648.2,1221.1 647.3,1216.0C646.4,1210.9 645.2,1206.5 643.7,1201.7C642.3,1196.9 640.5,1192.2 638.4,1187.4C636.3,1182.6 633.6,1177.8 631.2,1173.1C628.8,1168.3 625.8,1163.5 624.1,1158.7C622.3,1154.0 615.7,1146.2 620.5,1144.4Z" fill="#D7E9FF"/>
<path d="M674.2,1174.8C675.4,1170.7 680.7,1166.2 684.9,1164.1C689.1,1162.0 694.2,1162.0 699.2,1162.3C704.3,1162.6 711.2,1163.8 715.3,1165.9C719.5,1168.0 723.1,1170.4 724.3,1174.8C725.5,1179.3 723.7,1187.4 722.5,1192.7C721.3,1198.1 719.2,1204.7 717.1,1207.1C715.0,1209.5 712.4,1208.6 710.0,1207.1C707.6,1205.6 706.4,1200.2 702.8,1198.1C699.2,1196.0 692.7,1196.0 688.5,1194.5C684.3,1193.0 680.1,1192.4 677.8,1189.2C675.4,1185.9 673.0,1179.0 674.2,1174.8Z" fill="#B4CDFF" stroke="#B4CDFF" stroke-width="14" stroke-linejoin="round"/>
<path d="M674.2,1174.8C675.4,1170.7 680.7,1166.2 684.9,1164.1C689.1,1162.0 694.2,1162.0 699.2,1162.3C704.3,1162.6 711.2,1163.8 715.3,1165.9C719.5,1168.0 723.1,1170.4 724.3,1174.8C725.5,1179.3 723.7,1187.4 722.5,1192.7C721.3,1198.1 719.2,1204.7 717.1,1207.1C715.0,1209.5 712.4,1208.6 710.0,1207.1C707.6,1205.6 706.4,1200.2 702.8,1198.1C699.2,1196.0 692.7,1196.0 688.5,1194.5C684.3,1193.0 680.1,1192.4 677.8,1189.2C675.4,1185.9 673.0,1179.0 674.2,1174.8Z" fill="#80AAFF"/>
<path d="M695.7,1180.2C696.8,1177.8 702.8,1175.1 706.4,1174.8C710.0,1174.5 715.0,1175.4 717.1,1178.4C719.2,1181.4 719.5,1188.9 718.9,1192.7C718.3,1196.6 715.6,1200.8 713.6,1201.7C711.5,1202.6 708.8,1200.2 706.4,1198.1C704.0,1196.0 701.0,1192.2 699.2,1189.2C697.4,1186.2 694.5,1182.6 695.7,1180.2Z" fill="#4178FF"/>
<path d="M661.6,1230.3C663.1,1227.9 669.7,1225.0 674.2,1223.2C678.6,1221.4 684.0,1219.6 688.5,1219.6C693.0,1219.6 698.3,1220.8 701.0,1223.2C703.7,1225.6 704.9,1230.3 704.6,1233.9C704.3,1237.5 701.9,1242.3 699.2,1244.7C696.5,1247.0 692.7,1248.2 688.5,1248.2C684.3,1248.2 678.1,1246.4 674.2,1244.7C670.3,1242.9 667.3,1239.9 665.2,1237.5C663.1,1235.1 660.2,1232.7 661.6,1230.3Z" fill="#FFEAD7"/>
<path d="M677.8,1233.9C678.6,1230.9 685.2,1227.9 688.5,1226.8C691.8,1225.6 695.7,1225.3 697.4,1226.8C699.2,1228.2 700.1,1232.7 699.2,1235.7C698.3,1238.7 694.8,1243.2 692.1,1244.7C689.4,1246.1 685.5,1246.4 683.1,1244.7C680.7,1242.9 676.9,1236.9 677.8,1233.9Z" fill="#FFCDB4"/>
<path d="M643.7,1180.2C644.3,1178.4 647.6,1173.7 649.1,1173.1C650.6,1172.5 652.4,1174.8 652.7,1176.6C653.0,1178.4 652.1,1182.6 650.9,1183.8C649.7,1185.0 646.7,1184.4 645.5,1183.8C644.3,1183.2 643.2,1182.0 643.7,1180.2Z" fill="#FFEAD7"/>
<path d="M674.2,1309.1C673.9,1303.7 676.3,1294.2 677.8,1287.6C679.2,1281.0 679.5,1275.1 683.1,1269.7C686.7,1264.3 692.4,1260.2 699.2,1255.4C706.1,1250.6 715.6,1245.2 724.3,1241.1C732.9,1236.9 742.2,1233.3 751.1,1230.3C760.1,1227.4 772.0,1223.2 778.0,1223.2C784.0,1223.2 786.3,1226.2 786.9,1230.3C787.5,1234.5 784.5,1242.9 781.6,1248.2C778.6,1253.6 773.2,1257.8 769.0,1262.6C764.9,1267.3 761.0,1271.5 756.5,1276.9C752.0,1282.2 747.6,1289.4 742.2,1294.8C736.8,1300.1 731.5,1305.2 724.3,1309.1C717.1,1313.0 706.7,1316.2 699.2,1318.0C691.8,1319.8 683.7,1321.3 679.5,1319.8C675.4,1318.3 674.5,1314.5 674.2,1309.1Z" fill="#B4CDFF"/>
<path d="M679.5,1305.5C678.6,1301.0 681.0,1290.0 683.1,1284.0C685.2,1278.1 687.6,1274.2 692.1,1269.7C696.5,1265.2 703.1,1261.1 710.0,1257.2C716.8,1253.3 725.5,1250.3 733.2,1246.4C741.0,1242.6 749.1,1236.9 756.5,1233.9C764.0,1230.9 774.1,1227.9 778.0,1228.5C781.9,1229.1 781.0,1233.9 779.8,1237.5C778.6,1241.1 774.7,1245.5 770.8,1250.0C766.9,1254.5 761.3,1259.3 756.5,1264.3C751.7,1269.4 747.0,1275.1 742.2,1280.5C737.4,1285.8 733.8,1291.8 727.9,1296.6C721.9,1301.3 713.0,1306.7 706.4,1309.1C699.8,1311.5 693.0,1311.5 688.5,1310.9C684.0,1310.3 680.4,1310.0 679.5,1305.5Z" fill="#D7E9FF"/>
<path d="M684.9,1291.2C684.3,1285.8 686.1,1278.1 688.5,1273.3C690.9,1268.5 694.8,1266.1 699.2,1262.6C703.7,1259.0 709.7,1254.8 715.3,1251.8C721.0,1248.8 727.3,1247.0 733.2,1244.7C739.2,1242.3 745.2,1239.0 751.1,1237.5C757.1,1236.0 765.2,1235.1 769.0,1235.7C772.9,1236.3 774.4,1239.0 774.4,1241.1C774.4,1243.2 772.0,1245.8 769.0,1248.2C766.1,1250.6 761.0,1251.8 756.5,1255.4C752.0,1259.0 746.1,1264.9 742.2,1269.7C738.3,1274.5 736.2,1279.9 733.2,1284.0C730.3,1288.2 728.8,1291.8 724.3,1294.8C719.8,1297.8 711.8,1300.1 706.4,1301.9C701.0,1303.7 695.7,1307.3 692.1,1305.5C688.5,1303.7 685.5,1296.6 684.9,1291.2Z" fill="#FFEAD7"/>
<path d="M695.7,1296.6C693.3,1294.5 696.8,1286.1 699.2,1282.2C701.6,1278.4 705.8,1276.3 710.0,1273.3C714.1,1270.3 719.5,1267.3 724.3,1264.3C729.1,1261.4 734.4,1258.1 738.6,1255.4C742.8,1252.7 747.9,1247.6 749.3,1248.2C750.8,1248.8 749.6,1254.8 747.6,1259.0C745.5,1263.1 740.1,1268.8 736.8,1273.3C733.5,1277.8 731.7,1282.2 727.9,1285.8C724.0,1289.4 718.9,1293.0 713.6,1294.8C708.2,1296.6 698.0,1298.6 695.7,1296.6Z" fill="#FFCDB4"/>
<path d="M717.1,1284.0C718.0,1281.9 724.6,1275.1 727.9,1271.5C731.2,1267.9 736.2,1262.3 736.8,1262.6C737.4,1262.8 733.8,1269.7 731.5,1273.3C729.1,1276.9 724.9,1282.2 722.5,1284.0C720.1,1285.8 716.2,1286.1 717.1,1284.0Z" fill="#FFAA80"/>
<path d="M596.0,945.3C594.5,943.8 592.1,954.3 588.8,957.8C585.6,961.4 580.8,964.1 576.3,966.8C571.8,969.5 565.9,971.3 562.0,974.0C558.1,976.6 555.7,979.6 553.0,982.9C550.4,986.2 548.6,990.4 545.9,993.6C543.2,996.9 540.8,999.9 536.9,1002.6C533.1,1005.3 527.4,1007.7 522.6,1009.8C517.8,1011.8 512.5,1013.6 508.3,1015.1C504.1,1016.6 501.1,1016.9 497.6,1018.7C494.0,1020.5 490.1,1022.9 486.8,1025.9C483.5,1028.8 480.2,1033.0 477.9,1036.6C475.5,1040.2 474.0,1043.5 472.5,1047.3C471.0,1051.2 469.8,1055.4 468.9,1059.9C468.0,1064.3 467.6,1068.8 467.1,1074.2C466.7,1079.6 466.4,1086.1 466.2,1092.1C466.1,1098.1 466.1,1104.0 466.2,1110.0C466.4,1116.0 457.1,1127.9 467.1,1127.9C477.1,1127.9 510.4,1113.0 526.2,1110.0C542.0,1107.0 554.5,1111.5 562.0,1110.0C569.4,1108.5 569.1,1105.5 570.9,1101.0C572.7,1096.6 572.3,1089.1 572.7,1083.1C573.2,1077.2 573.2,1071.2 573.6,1065.2C574.1,1059.3 574.7,1052.4 575.4,1047.3C576.2,1042.3 576.8,1039.3 578.1,1034.8C579.4,1030.3 581.4,1025.9 583.5,1020.5C585.6,1015.1 588.7,1008.6 590.6,1002.6C592.6,996.6 593.9,990.7 595.1,984.7C596.3,978.7 597.6,973.4 597.8,966.8C597.9,960.2 597.5,946.8 596.0,945.3Z" fill="#D7E9FF" stroke="#D7E9FF" stroke-width="34" stroke-linejoin="round"/>
<path d="M596.0,945.3C594.5,943.8 592.1,954.3 588.8,957.8C585.6,961.4 580.8,964.1 576.3,966.8C571.8,969.5 565.9,971.3 562.0,974.0C558.1,976.6 555.7,979.6 553.0,982.9C550.4,986.2 548.6,990.4 545.9,993.6C543.2,996.9 540.8,999.9 536.9,1002.6C533.1,1005.3 527.4,1007.7 522.6,1009.8C517.8,1011.8 512.5,1013.6 508.3,1015.1C504.1,1016.6 501.1,1016.9 497.6,1018.7C494.0,1020.5 490.1,1022.9 486.8,1025.9C483.5,1028.8 480.2,1033.0 477.9,1036.6C475.5,1040.2 474.0,1043.5 472.5,1047.3C471.0,1051.2 469.8,1055.4 468.9,1059.9C468.0,1064.3 467.6,1068.8 467.1,1074.2C466.7,1079.6 466.4,1086.1 466.2,1092.1C466.1,1098.1 466.1,1104.0 466.2,1110.0C466.4,1116.0 457.1,1127.9 467.1,1127.9C477.1,1127.9 510.4,1113.0 526.2,1110.0C542.0,1107.0 554.5,1111.5 562.0,1110.0C569.4,1108.5 569.1,1105.5 570.9,1101.0C572.7,1096.6 572.3,1089.1 572.7,1083.1C573.2,1077.2 573.2,1071.2 573.6,1065.2C574.1,1059.3 574.7,1052.4 575.4,1047.3C576.2,1042.3 576.8,1039.3 578.1,1034.8C579.4,1030.3 581.4,1025.9 583.5,1020.5C585.6,1015.1 588.7,1008.6 590.6,1002.6C592.6,996.6 593.9,990.7 595.1,984.7C596.3,978.7 597.6,973.4 597.8,966.8C597.9,960.2 597.5,946.8 596.0,945.3Z" fill="#B4CDFF" stroke="#B4CDFF" stroke-width="26" stroke-linejoin="round"/>
<path d="M596.0,945.3C594.5,943.8 592.1,954.3 588.8,957.8C585.6,961.4 580.8,964.1 576.3,966.8C571.8,969.5 565.9,971.3 562.0,974.0C558.1,976.6 555.7,979.6 553.0,982.9C550.4,986.2 548.6,990.4 545.9,993.6C543.2,996.9 540.8,999.9 536.9,1002.6C533.1,1005.3 527.4,1007.7 522.6,1009.8C517.8,1011.8 512.5,1013.6 508.3,1015.1C504.1,1016.6 501.1,1016.9 497.6,1018.7C494.0,1020.5 490.1,1022.9 486.8,1025.9C483.5,1028.8 480.2,1033.0 477.9,1036.6C475.5,1040.2 474.0,1043.5 472.5,1047.3C471.0,1051.2 469.8,1055.4 468.9,1059.9C468.0,1064.3 467.6,1068.8 467.1,1074.2C466.7,1079.6 466.4,1086.1 466.2,1092.1C466.1,1098.1 466.1,1104.0 466.2,1110.0C466.4,1116.0 457.1,1127.9 467.1,1127.9C477.1,1127.9 510.4,1113.0 526.2,1110.0C542.0,1107.0 554.5,1111.5 562.0,1110.0C569.4,1108.5 569.1,1105.5 570.9,1101.0C572.7,1096.6 572.3,1089.1 572.7,1083.1C573.2,1077.2 573.2,1071.2 573.6,1065.2C574.1,1059.3 574.7,1052.4 575.4,1047.3C576.2,1042.3 576.8,1039.3 578.1,1034.8C579.4,1030.3 581.4,1025.9 583.5,1020.5C585.6,1015.1 588.7,1008.6 590.6,1002.6C592.6,996.6 593.9,990.7 595.1,984.7C596.3,978.7 597.6,973.4 597.8,966.8C597.9,960.2 597.5,946.8 596.0,945.3Z" fill="#80AAFF" stroke="#80AAFF" stroke-width="20" stroke-linejoin="round"/>
<path d="M596.0,945.3C594.5,943.8 592.1,954.3 588.8,957.8C585.6,961.4 580.8,964.1 576.3,966.8C571.8,969.5 565.9,971.3 562.0,974.0C558.1,976.6 555.7,979.6 553.0,982.9C550.4,986.2 548.6,990.4 545.9,993.6C543.2,996.9 540.8,999.9 536.9,1002.6C533.1,1005.3 527.4,1007.7 522.6,1009.8C517.8,1011.8 512.5,1013.6 508.3,1015.1C504.1,1016.6 501.1,1016.9 497.6,1018.7C494.0,1020.5 490.1,1022.9 486.8,1025.9C483.5,1028.8 480.2,1033.0 477.9,1036.6C475.5,1040.2 474.0,1043.5 472.5,1047.3C471.0,1051.2 469.8,1055.4 468.9,1059.9C468.0,1064.3 467.6,1068.8 467.1,1074.2C466.7,1079.6 466.4,1086.1 466.2,1092.1C466.1,1098.1 466.1,1104.0 466.2,1110.0C466.4,1116.0 457.1,1127.9 467.1,1127.9C477.1,1127.9 510.4,1113.0 526.2,1110.0C542.0,1107.0 554.5,1111.5 562.0,1110.0C569.4,1108.5 569.1,1105.5 570.9,1101.0C572.7,1096.6 572.3,1089.1 572.7,1083.1C573.2,1077.2 573.2,1071.2 573.6,1065.2C574.1,1059.3 574.7,1052.4 575.4,1047.3C576.2,1042.3 576.8,1039.3 578.1,1034.8C579.4,1030.3 581.4,1025.9 583.5,1020.5C585.6,1015.1 588.7,1008.6 590.6,1002.6C592.6,996.6 593.9,990.7 595.1,984.7C596.3,978.7 597.6,973.4 597.8,966.8C597.9,960.2 597.5,946.8 596.0,945.3Z" fill="#4178FF" stroke="#4178FF" stroke-width="14" stroke-linejoin="round"/>
<path d="M596.0,945.3C594.5,943.8 592.1,954.3 588.8,957.8C585.6,961.4 580.8,964.1 576.3,966.8C571.8,969.5 565.9,971.3 562.0,974.0C558.1,976.6 555.7,979.6 553.0,982.9C550.4,986.2 548.6,990.4 545.9,993.6C543.2,996.9 540.8,999.9 536.9,1002.6C533.1,1005.3 527.4,1007.7 522.6,1009.8C517.8,1011.8 512.5,1013.6 508.3,1015.1C504.1,1016.6 501.1,1016.9 497.6,1018.7C494.0,1020.5 490.1,1022.9 486.8,1025.9C483.5,1028.8 480.2,1033.0 477.9,1036.6C475.5,1040.2 474.0,1043.5 472.5,1047.3C471.0,1051.2 469.8,1055.4 468.9,1059.9C468.0,1064.3 467.6,1068.8 467.1,1074.2C466.7,1079.6 466.4,1086.1 466.2,1092.1C466.1,1098.1 466.1,1104.0 466.2,1110.0C466.4,1116.0 457.1,1127.9 467.1,1127.9C477.1,1127.9 510.4,1113.0 526.2,1110.0C542.0,1107.0 554.5,1111.5 562.0,1110.0C569.4,1108.5 569.1,1105.5 570.9,1101.0C572.7,1096.6 572.3,1089.1 572.7,1083.1C573.2,1077.2 573.2,1071.2 573.6,1065.2C574.1,1059.3 574.7,1052.4 575.4,1047.3C576.2,1042.3 576.8,1039.3 578.1,1034.8C579.4,1030.3 581.4,1025.9 583.5,1020.5C585.6,1015.1 588.7,1008.6 590.6,1002.6C592.6,996.6 593.9,990.7 595.1,984.7C596.3,978.7 597.6,973.4 597.8,966.8C597.9,960.2 597.5,946.8 596.0,945.3Z" fill="#1E50FF" stroke="#1E50FF" stroke-width="8" stroke-linejoin="round"/>
<path d="M596.0,945.3C594.5,943.8 592.1,954.3 588.8,957.8C585.6,961.4 580.8,964.1 576.3,966.8C571.8,969.5 565.9,971.3 562.0,974.0C558.1,976.6 555.7,979.6 553.0,982.9C550.4,986.2 548.6,990.4 545.9,993.6C543.2,996.9 540.8,999.9 536.9,1002.6C533.1,1005.3 527.4,1007.7 522.6,1009.8C517.8,1011.8 512.5,1013.6 508.3,1015.1C504.1,1016.6 501.1,1016.9 497.6,1018.7C494.0,1020.5 490.1,1022.9 486.8,1025.9C483.5,1028.8 480.2,1033.0 477.9,1036.6C475.5,1040.2 474.0,1043.5 472.5,1047.3C471.0,1051.2 469.8,1055.4 468.9,1059.9C468.0,1064.3 467.6,1068.8 467.1,1074.2C466.7,1079.6 466.4,1086.1 466.2,1092.1C466.1,1098.1 466.1,1104.0 466.2,1110.0C466.4,1116.0 457.1,1127.9 467.1,1127.9C477.1,1127.9 510.4,1113.0 526.2,1110.0C542.0,1107.0 554.5,1111.5 562.0,1110.0C569.4,1108.5 569.1,1105.5 570.9,1101.0C572.7,1096.6 572.3,1089.1 572.7,1083.1C573.2,1077.2 573.2,1071.2 573.6,1065.2C574.1,1059.3 574.7,1052.4 575.4,1047.3C576.2,1042.3 576.8,1039.3 578.1,1034.8C579.4,1030.3 581.4,1025.9 583.5,1020.5C585.6,1015.1 588.7,1008.6 590.6,1002.6C592.6,996.6 593.9,990.7 595.1,984.7C596.3,978.7 597.6,973.4 597.8,966.8C597.9,960.2 597.5,946.8 596.0,945.3Z" fill="#0030E0"/>
<path d="M560.2,990.1C561.4,985.6 565.9,981.4 569.1,979.3C572.4,977.2 576.9,976.6 579.9,977.5C582.9,978.4 585.9,980.5 587.0,984.7C588.2,988.9 589.4,997.5 587.0,1002.6C584.7,1007.7 576.9,1014.5 572.7,1015.1C568.5,1015.7 564.1,1010.4 562.0,1006.2C559.9,1002.0 559.0,994.5 560.2,990.1Z" fill="#001AB4"/>
<path d="M560.2,1056.3C560.8,1053.6 565.3,1051.2 567.4,1050.9C569.4,1050.6 571.8,1052.1 572.7,1054.5C573.6,1056.9 574.2,1063.2 572.7,1065.2C571.2,1067.3 565.9,1068.5 563.8,1067.0C561.7,1065.5 559.6,1059.0 560.2,1056.3Z" fill="#001AB4"/>
<path d="M540.5,1088.5C540.8,1085.2 543.2,1078.1 545.0,1076.9C546.8,1075.7 549.8,1078.8 551.2,1081.3C552.7,1083.9 554.1,1089.3 553.9,1092.1C553.8,1094.9 552.1,1097.6 550.4,1098.4C548.6,1099.1 544.8,1098.2 543.2,1096.6C541.6,1094.9 540.2,1091.8 540.5,1088.5Z" fill="#1E50FF" stroke="#1E50FF" stroke-width="8" stroke-linejoin="round"/>
<path d="M540.5,1088.5C540.8,1085.2 543.2,1078.1 545.0,1076.9C546.8,1075.7 549.8,1078.8 551.2,1081.3C552.7,1083.9 554.1,1089.3 553.9,1092.1C553.8,1094.9 552.1,1097.6 550.4,1098.4C548.6,1099.1 544.8,1098.2 543.2,1096.6C541.6,1094.9 540.2,1091.8 540.5,1088.5Z" fill="#4178FF"/>
<path d="M602.6,927.4C608.1,920.9 627.0,925.0 634.8,927.4C642.6,929.8 645.2,936.7 649.1,941.7C653.0,946.8 656.0,952.2 658.1,957.8C660.2,963.5 660.5,969.8 661.6,975.7C662.8,981.7 663.7,988.3 665.2,993.6C666.7,999.0 668.5,1003.5 670.6,1008.0C672.7,1012.4 676.0,1016.6 677.8,1020.5C679.5,1024.4 681.3,1028.0 681.3,1031.2C681.3,1034.5 680.1,1038.4 677.8,1040.2C675.4,1042.0 671.2,1042.0 667.0,1042.0C662.8,1042.0 658.1,1040.8 652.7,1040.2C647.3,1039.6 640.8,1039.0 634.8,1038.4C628.8,1037.8 621.7,1037.2 616.9,1036.6C612.1,1036.0 608.5,1040.5 606.2,1034.8C603.8,1029.1 603.3,1013.9 602.6,1002.6C601.8,991.3 601.7,979.3 601.7,966.8C601.7,954.3 597.1,934.0 602.6,927.4Z" fill="#1E50FF" stroke="#1E50FF" stroke-width="16" stroke-linejoin="round"/>
<path d="M602.6,927.4C608.1,920.9 627.0,925.0 634.8,927.4C642.6,929.8 645.2,936.7 649.1,941.7C653.0,946.8 656.0,952.2 658.1,957.8C660.2,963.5 660.5,969.8 661.6,975.7C662.8,981.7 663.7,988.3 665.2,993.6C666.7,999.0 668.5,1003.5 670.6,1008.0C672.7,1012.4 676.0,1016.6 677.8,1020.5C679.5,1024.4 681.3,1028.0 681.3,1031.2C681.3,1034.5 680.1,1038.4 677.8,1040.2C675.4,1042.0 671.2,1042.0 667.0,1042.0C662.8,1042.0 658.1,1040.8 652.7,1040.2C647.3,1039.6 640.8,1039.0 634.8,1038.4C628.8,1037.8 621.7,1037.2 616.9,1036.6C612.1,1036.0 608.5,1040.5 606.2,1034.8C603.8,1029.1 603.3,1013.9 602.6,1002.6C601.8,991.3 601.7,979.3 601.7,966.8C601.7,954.3 597.1,934.0 602.6,927.4Z" fill="#0030E0"/>
<path d="M602.6,938.2C606.5,930.7 619.0,937.6 625.8,939.9C632.7,942.3 638.7,947.4 643.7,952.5C648.8,957.5 653.6,964.1 656.3,970.4C659.0,976.6 659.9,984.1 659.9,990.1C659.9,996.0 658.1,1001.7 656.3,1006.2C654.5,1010.6 652.7,1013.9 649.1,1016.9C645.5,1019.9 639.6,1021.4 634.8,1024.1C630.0,1026.8 624.7,1031.2 620.5,1033.0C616.3,1034.8 612.4,1036.9 609.7,1034.8C607.1,1032.7 605.6,1028.8 604.4,1020.5C603.2,1012.1 602.9,998.4 602.6,984.7C602.3,971.0 598.7,945.6 602.6,938.2Z" fill="#001AB4"/>
<path d="M604.4,952.5C607.1,947.4 615.4,951.9 620.5,954.3C625.5,956.7 630.6,962.3 634.8,966.8C639.0,971.3 643.2,977.2 645.5,981.1C647.9,985.0 649.4,986.5 649.1,990.1C648.8,993.6 646.1,999.6 643.7,1002.6C641.4,1005.6 637.8,1006.2 634.8,1008.0C631.8,1009.8 628.8,1011.2 625.8,1013.3C622.9,1015.4 619.3,1018.1 616.9,1020.5C614.5,1022.9 613.3,1029.1 611.5,1027.7C609.7,1026.2 607.4,1018.7 606.2,1011.5C605.0,1004.4 604.7,994.5 604.4,984.7C604.1,974.9 601.7,957.5 604.4,952.5Z" fill="#000090"/>
<path d="M598.7,927.4 602.3,927.4 604.9,966.8 605.8,993.6 604.9,1020.5 603.2,1038.4 600.5,1038.4 597.8,1011.5 596.9,984.7 597.8,948.9Z" fill="#80AAFF"/>
<path d="M599.9,957.8 603.2,957.8 604.6,993.6 603.5,1024.1 601.4,1031.2 599.2,1011.5 598.7,984.7Z" fill="#B4CDFF"/>
<path d="M601.0,990.1 603.2,990.1 602.8,1020.5 601.4,1024.1 600.3,1011.5Z" fill="#D7E9FF"/>
<path d="M588.8,920.3C624.9,922.1 589.1,927.4 588.8,931.0C588.5,934.6 587.9,938.8 587.0,941.7C586.2,944.7 586.2,946.8 583.5,948.9C580.8,951.0 575.1,952.2 570.9,954.3C566.8,956.4 562.0,958.4 558.4,961.4C554.8,964.4 552.4,968.6 549.5,972.2C546.5,975.7 543.8,979.9 540.5,982.9C537.2,985.9 533.3,988.3 529.8,990.1C526.2,991.9 522.6,992.8 519.0,993.6C515.5,994.5 511.9,994.5 508.3,995.4C504.7,996.3 500.8,997.5 497.6,999.0C494.3,1000.5 491.6,1002.3 488.6,1004.4C485.6,1006.5 482.3,1008.9 479.7,1011.5C477.0,1014.2 474.6,1017.2 472.5,1020.5C470.4,1023.8 468.9,1027.7 467.1,1031.2C465.3,1034.8 463.2,1037.8 461.8,1042.0C460.3,1046.1 459.1,1050.9 458.2,1056.3C457.3,1061.7 457.0,1068.8 456.4,1074.2C455.8,1079.6 454.6,1084.0 454.6,1088.5C454.6,1093.0 455.8,1096.9 456.4,1101.0C457.0,1105.2 457.7,1109.1 458.2,1113.6C458.6,1118.0 458.6,1122.5 459.1,1127.9C459.5,1133.3 460.4,1139.8 460.9,1145.8C461.4,1151.8 461.8,1157.7 462.1,1163.7C462.4,1169.6 462.7,1175.6 462.6,1181.6C462.6,1187.6 462.5,1199.2 461.8,1199.8C461.0,1200.4 459.4,1190.0 458.2,1185.2C457.0,1180.3 455.7,1175.0 454.6,1170.8C453.5,1166.6 453.2,1165.5 451.7,1159.9C450.2,1154.3 448.5,1143.4 445.6,1137.4C442.8,1131.4 438.2,1128.9 434.5,1123.9C430.8,1119.0 428.0,1111.7 423.5,1107.8C418.9,1103.9 413.0,1102.7 407.5,1100.5C402.0,1098.3 396.2,1095.7 390.3,1094.4C384.5,1093.2 375.3,1122.0 372.3,1093.0C369.2,1064.0 336.2,949.0 372.3,920.3C408.4,891.5 552.7,918.5 588.8,920.3Z" fill="#4178FF" stroke="#4178FF" stroke-width="28" stroke-linejoin="round"/>
<path d="M588.8,920.3C624.9,922.1 589.1,927.4 588.8,931.0C588.5,934.6 587.9,938.8 587.0,941.7C586.2,944.7 586.2,946.8 583.5,948.9C580.8,951.0 575.1,952.2 570.9,954.3C566.8,956.4 562.0,958.4 558.4,961.4C554.8,964.4 552.4,968.6 549.5,972.2C546.5,975.7 543.8,979.9 540.5,982.9C537.2,985.9 533.3,988.3 529.8,990.1C526.2,991.9 522.6,992.8 519.0,993.6C515.5,994.5 511.9,994.5 508.3,995.4C504.7,996.3 500.8,997.5 497.6,999.0C494.3,1000.5 491.6,1002.3 488.6,1004.4C485.6,1006.5 482.3,1008.9 479.7,1011.5C477.0,1014.2 474.6,1017.2 472.5,1020.5C470.4,1023.8 468.9,1027.7 467.1,1031.2C465.3,1034.8 463.2,1037.8 461.8,1042.0C460.3,1046.1 459.1,1050.9 458.2,1056.3C457.3,1061.7 457.0,1068.8 456.4,1074.2C455.8,1079.6 454.6,1084.0 454.6,1088.5C454.6,1093.0 455.8,1096.9 456.4,1101.0C457.0,1105.2 457.7,1109.1 458.2,1113.6C458.6,1118.0 458.6,1122.5 459.1,1127.9C459.5,1133.3 460.4,1139.8 460.9,1145.8C461.4,1151.8 461.8,1157.7 462.1,1163.7C462.4,1169.6 462.7,1175.6 462.6,1181.6C462.6,1187.6 462.5,1199.2 461.8,1199.8C461.0,1200.4 459.4,1190.0 458.2,1185.2C457.0,1180.3 455.7,1175.0 454.6,1170.8C453.5,1166.6 453.2,1165.5 451.7,1159.9C450.2,1154.3 448.5,1143.4 445.6,1137.4C442.8,1131.4 438.2,1128.9 434.5,1123.9C430.8,1119.0 428.0,1111.7 423.5,1107.8C418.9,1103.9 413.0,1102.7 407.5,1100.5C402.0,1098.3 396.2,1095.7 390.3,1094.4C384.5,1093.2 375.3,1122.0 372.3,1093.0C369.2,1064.0 336.2,949.0 372.3,920.3C408.4,891.5 552.7,918.5 588.8,920.3Z" fill="#80AAFF" stroke="#80AAFF" stroke-width="20" stroke-linejoin="round"/>
<path d="M588.8,920.3C624.9,922.1 589.1,927.4 588.8,931.0C588.5,934.6 587.9,938.8 587.0,941.7C586.2,944.7 586.2,946.8 583.5,948.9C580.8,951.0 575.1,952.2 570.9,954.3C566.8,956.4 562.0,958.4 558.4,961.4C554.8,964.4 552.4,968.6 549.5,972.2C546.5,975.7 543.8,979.9 540.5,982.9C537.2,985.9 533.3,988.3 529.8,990.1C526.2,991.9 522.6,992.8 519.0,993.6C515.5,994.5 511.9,994.5 508.3,995.4C504.7,996.3 500.8,997.5 497.6,999.0C494.3,1000.5 491.6,1002.3 488.6,1004.4C485.6,1006.5 482.3,1008.9 479.7,1011.5C477.0,1014.2 474.6,1017.2 472.5,1020.5C470.4,1023.8 468.9,1027.7 467.1,1031.2C465.3,1034.8 463.2,1037.8 461.8,1042.0C460.3,1046.1 459.1,1050.9 458.2,1056.3C457.3,1061.7 457.0,1068.8 456.4,1074.2C455.8,1079.6 454.6,1084.0 454.6,1088.5C454.6,1093.0 455.8,1096.9 456.4,1101.0C457.0,1105.2 457.7,1109.1 458.2,1113.6C458.6,1118.0 458.6,1122.5 459.1,1127.9C459.5,1133.3 460.4,1139.8 460.9,1145.8C461.4,1151.8 461.8,1157.7 462.1,1163.7C462.4,1169.6 462.7,1175.6 462.6,1181.6C462.6,1187.6 462.5,1199.2 461.8,1199.8C461.0,1200.4 459.4,1190.0 458.2,1185.2C457.0,1180.3 455.7,1175.0 454.6,1170.8C453.5,1166.6 453.2,1165.5 451.7,1159.9C450.2,1154.3 448.5,1143.4 445.6,1137.4C442.8,1131.4 438.2,1128.9 434.5,1123.9C430.8,1119.0 428.0,1111.7 423.5,1107.8C418.9,1103.9 413.0,1102.7 407.5,1100.5C402.0,1098.3 396.2,1095.7 390.3,1094.4C384.5,1093.2 375.3,1122.0 372.3,1093.0C369.2,1064.0 336.2,949.0 372.3,920.3C408.4,891.5 552.7,918.5 588.8,920.3Z" fill="#B4CDFF" stroke="#B4CDFF" stroke-width="13" stroke-linejoin="round"/>
<path d="M588.8,920.3C624.9,922.1 589.1,927.4 588.8,931.0C588.5,934.6 587.9,938.8 587.0,941.7C586.2,944.7 586.2,946.8 583.5,948.9C580.8,951.0 575.1,952.2 570.9,954.3C566.8,956.4 562.0,958.4 558.4,961.4C554.8,964.4 552.4,968.6 549.5,972.2C546.5,975.7 543.8,979.9 540.5,982.9C537.2,985.9 533.3,988.3 529.8,990.1C526.2,991.9 522.6,992.8 519.0,993.6C515.5,994.5 511.9,994.5 508.3,995.4C504.7,996.3 500.8,997.5 497.6,999.0C494.3,1000.5 491.6,1002.3 488.6,1004.4C485.6,1006.5 482.3,1008.9 479.7,1011.5C477.0,1014.2 474.6,1017.2 472.5,1020.5C470.4,1023.8 468.9,1027.7 467.1,1031.2C465.3,1034.8 463.2,1037.8 461.8,1042.0C460.3,1046.1 459.1,1050.9 458.2,1056.3C457.3,1061.7 457.0,1068.8 456.4,1074.2C455.8,1079.6 454.6,1084.0 454.6,1088.5C454.6,1093.0 455.8,1096.9 456.4,1101.0C457.0,1105.2 457.7,1109.1 458.2,1113.6C458.6,1118.0 458.6,1122.5 459.1,1127.9C459.5,1133.3 460.4,1139.8 460.9,1145.8C461.4,1151.8 461.8,1157.7 462.1,1163.7C462.4,1169.6 462.7,1175.6 462.6,1181.6C462.6,1187.6 462.5,1199.2 461.8,1199.8C461.0,1200.4 459.4,1190.0 458.2,1185.2C457.0,1180.3 455.7,1175.0 454.6,1170.8C453.5,1166.6 453.2,1165.5 451.7,1159.9C450.2,1154.3 448.5,1143.4 445.6,1137.4C442.8,1131.4 438.2,1128.9 434.5,1123.9C430.8,1119.0 428.0,1111.7 423.5,1107.8C418.9,1103.9 413.0,1102.7 407.5,1100.5C402.0,1098.3 396.2,1095.7 390.3,1094.4C384.5,1093.2 375.3,1122.0 372.3,1093.0C369.2,1064.0 336.2,949.0 372.3,920.3C408.4,891.5 552.7,918.5 588.8,920.3Z" fill="#D7E9FF" stroke="#D7E9FF" stroke-width="6" stroke-linejoin="round"/>
<path d="M461.8,1199.8C461.2,1197.4 459.4,1190.0 458.2,1185.2C457.0,1180.3 455.7,1175.0 454.6,1170.8C453.5,1166.6 453.2,1165.5 451.7,1159.9C450.2,1154.3 448.5,1143.4 445.6,1137.4C442.8,1131.4 438.2,1128.9 434.5,1123.9C430.8,1119.0 428.0,1111.7 423.5,1107.8C418.9,1103.9 413.0,1102.7 407.5,1100.5C402.0,1098.3 396.2,1095.7 390.3,1094.4C384.5,1093.2 375.3,1093.2 372.3,1093.0" fill="none" stroke="#B4CDFF" stroke-width="46" stroke-linejoin="round" stroke-linecap="round"/>
<path d="M461.8,1199.8C461.2,1197.4 459.4,1190.0 458.2,1185.2C457.0,1180.3 455.7,1175.0 454.6,1170.8C453.5,1166.6 453.2,1165.5 451.7,1159.9C450.2,1154.3 448.5,1143.4 445.6,1137.4C442.8,1131.4 438.2,1128.9 434.5,1123.9C430.8,1119.0 428.0,1111.7 423.5,1107.8C418.9,1103.9 413.0,1102.7 407.5,1100.5C402.0,1098.3 396.2,1095.7 390.3,1094.4C384.5,1093.2 375.3,1093.2 372.3,1093.0" fill="none" stroke="#D7E9FF" stroke-width="25" stroke-linejoin="round" stroke-linecap="round"/>
<path d="M588.8,920.3C624.9,922.1 589.1,927.4 588.8,931.0C588.5,934.6 587.9,938.8 587.0,941.7C586.2,944.7 586.2,946.8 583.5,948.9C580.8,951.0 575.1,952.2 570.9,954.3C566.8,956.4 562.0,958.4 558.4,961.4C554.8,964.4 552.4,968.6 549.5,972.2C546.5,975.7 543.8,979.9 540.5,982.9C537.2,985.9 533.3,988.3 529.8,990.1C526.2,991.9 522.6,992.8 519.0,993.6C515.5,994.5 511.9,994.5 508.3,995.4C504.7,996.3 500.8,997.5 497.6,999.0C494.3,1000.5 491.6,1002.3 488.6,1004.4C485.6,1006.5 482.3,1008.9 479.7,1011.5C477.0,1014.2 474.6,1017.2 472.5,1020.5C470.4,1023.8 468.9,1027.7 467.1,1031.2C465.3,1034.8 463.2,1037.8 461.8,1042.0C460.3,1046.1 459.1,1050.9 458.2,1056.3C457.3,1061.7 457.0,1068.8 456.4,1074.2C455.8,1079.6 454.6,1084.0 454.6,1088.5C454.6,1093.0 455.8,1096.9 456.4,1101.0C457.0,1105.2 457.7,1109.1 458.2,1113.6C458.6,1118.0 458.6,1122.5 459.1,1127.9C459.5,1133.3 460.4,1139.8 460.9,1145.8C461.4,1151.8 461.8,1157.7 462.1,1163.7C462.4,1169.6 462.7,1175.6 462.6,1181.6C462.6,1187.6 462.5,1199.2 461.8,1199.8C461.0,1200.4 459.4,1190.0 458.2,1185.2C457.0,1180.3 455.7,1175.0 454.6,1170.8C453.5,1166.6 453.2,1165.5 451.7,1159.9C450.2,1154.3 448.5,1143.4 445.6,1137.4C442.8,1131.4 438.2,1128.9 434.5,1123.9C430.8,1119.0 428.0,1111.7 423.5,1107.8C418.9,1103.9 413.0,1102.7 407.5,1100.5C402.0,1098.3 396.2,1095.7 390.3,1094.4C384.5,1093.2 375.3,1122.0 372.3,1093.0C369.2,1064.0 336.2,949.0 372.3,920.3C408.4,891.5 552.7,918.5 588.8,920.3Z" fill="#FFEAD7"/>
<path d="M581.7,920.3C616.3,923.2 581.4,934.0 579.9,938.2C578.4,942.3 575.7,943.2 572.7,945.3C569.7,947.4 565.3,948.6 562.0,950.7C558.7,952.8 556.0,954.9 553.0,957.8C550.1,960.8 547.1,965.0 544.1,968.6C541.1,972.2 538.4,976.6 535.1,979.3C531.9,982.0 528.3,983.2 524.4,984.7C520.5,986.2 516.0,987.1 511.9,988.3C507.7,989.5 503.2,990.4 499.3,991.9C495.5,993.3 491.9,995.1 488.6,997.2C485.3,999.3 482.6,1001.7 479.7,1004.4C476.7,1007.1 473.4,1010.1 470.7,1013.3C468.0,1016.6 465.6,1020.5 463.5,1024.1C461.5,1027.7 459.8,1030.9 458.2,1034.8C456.5,1038.7 454.9,1043.2 453.7,1047.3C452.5,1051.5 451.8,1055.4 451.0,1059.9C450.3,1064.3 449.8,1069.4 449.2,1074.2C448.6,1079.0 447.4,1083.7 447.4,1088.5C447.4,1093.3 448.6,1098.4 449.2,1102.8C449.8,1107.3 450.4,1111.2 451.0,1115.4C451.6,1119.5 452.2,1122.8 452.8,1127.9C453.4,1133.0 454.0,1139.8 454.6,1145.8C455.2,1151.8 455.9,1157.7 456.4,1163.7C456.8,1169.6 457.4,1177.4 457.3,1181.6C457.1,1185.8 456.4,1189.3 455.5,1188.7C454.6,1188.1 453.1,1182.5 451.9,1178.0C450.7,1173.5 449.7,1167.9 448.3,1161.9C447.0,1155.9 445.8,1149.4 443.9,1142.2C441.9,1135.0 438.2,1125.5 436.7,1118.9C435.2,1112.4 436.7,1107.2 434.9,1102.8C433.1,1098.5 430.5,1095.3 426.0,1093.0C421.4,1090.7 413.5,1091.0 407.5,1088.9C401.6,1086.8 396.2,1082.2 390.3,1080.5C384.5,1078.8 375.3,1105.4 372.3,1078.7C369.2,1052.0 337.4,946.7 372.3,920.3C407.2,893.9 547.1,917.3 581.7,920.3Z" fill="#FFCDB4"/>
<path d="M406.3,1052.7C410.1,1046.7 422.7,1027.7 427.7,1024.1C432.8,1020.5 432.5,1028.5 436.7,1031.2C440.9,1033.9 450.4,1036.0 452.8,1040.2C455.2,1044.4 451.9,1050.6 451.0,1056.3C450.1,1062.0 449.8,1071.8 447.4,1074.2C445.0,1076.6 440.3,1070.9 436.7,1070.6C433.1,1070.3 430.1,1072.7 426.0,1072.4C421.8,1072.1 415.2,1070.9 411.6,1068.8C408.1,1066.7 405.4,1062.6 404.5,1059.9C403.6,1057.2 402.4,1058.7 406.3,1052.7Z" fill="#FFAA80"/>
<path d="M468.9,990.1C468.9,987.7 476.1,979.6 479.7,975.7C483.2,971.9 487.4,968.0 490.4,966.8C493.4,965.6 496.1,965.9 497.6,968.6C499.0,971.3 500.5,979.9 499.3,982.9C498.1,985.9 493.7,985.3 490.4,986.5C487.1,987.7 483.2,989.5 479.7,990.1C476.1,990.7 468.9,992.5 468.9,990.1Z" fill="#FFAA80"/>
<path d="M508.3,956.1C508.9,951.9 514.6,951.3 519.0,948.9C523.5,946.5 528.0,943.5 535.1,941.7C542.3,939.9 557.5,936.4 562.0,938.2C566.5,939.9 563.2,947.7 562.0,952.5C560.8,957.3 557.2,962.3 554.8,966.8C552.4,971.3 550.7,976.0 547.7,979.3C544.7,982.6 540.5,985.6 536.9,986.5C533.3,987.4 529.8,986.8 526.2,984.7C522.6,982.6 518.4,978.7 515.5,974.0C512.5,969.2 507.7,960.2 508.3,956.1Z" fill="#FFAA80"/>
<path d="M526.2,965.0C526.5,970.1 529.5,976.5 531.6,979.3C533.6,982.2 536.6,983.8 538.7,982.0C540.8,980.2 542.0,972.9 544.1,968.6C546.2,964.3 549.5,960.5 551.2,956.1C553.0,951.6 556.0,944.4 554.8,941.7C553.6,939.1 548.3,938.8 544.1,939.9C539.9,941.1 532.8,944.7 529.8,948.9C526.8,953.1 525.9,959.9 526.2,965.0Z" fill="#FF7841"/>
<path d="M593.6,1042.0C595.1,1042.3 598.7,1042.9 602.6,1043.8C606.5,1044.7 611.5,1046.1 616.9,1047.3C622.3,1048.5 628.8,1049.7 634.8,1050.9C640.8,1052.1 646.7,1053.3 652.7,1054.5C658.7,1055.7 665.2,1056.3 670.6,1058.1C676.0,1059.9 680.7,1062.6 684.9,1065.2C689.1,1067.9 692.4,1070.9 695.7,1074.2C698.9,1077.5 702.2,1081.1 704.6,1084.9C707.0,1088.8 709.1,1093.6 710.0,1097.5C710.9,1101.3 711.8,1105.8 710.0,1108.2C708.2,1110.6 702.8,1110.3 699.2,1111.8C695.7,1113.3 689.7,1115.1 688.5,1117.1C687.3,1119.2 689.7,1121.9 692.1,1124.3C694.5,1126.7 698.9,1128.8 702.8,1131.5C706.7,1134.2 712.1,1137.4 715.3,1140.4C718.6,1143.4 721.0,1146.4 722.5,1149.4C724.0,1152.3 724.0,1156.8 724.3,1158.3" fill="none" stroke="#4178FF" stroke-width="36" stroke-linejoin="round" stroke-linecap="butt"/>
<path d="M593.6,1042.0C595.1,1042.3 598.7,1042.9 602.6,1043.8C606.5,1044.7 611.5,1046.1 616.9,1047.3C622.3,1048.5 628.8,1049.7 634.8,1050.9C640.8,1052.1 646.7,1053.3 652.7,1054.5C658.7,1055.7 665.2,1056.3 670.6,1058.1C676.0,1059.9 680.7,1062.6 684.9,1065.2C689.1,1067.9 692.4,1070.9 695.7,1074.2C698.9,1077.5 702.2,1081.1 704.6,1084.9C707.0,1088.8 709.1,1093.6 710.0,1097.5C710.9,1101.3 711.8,1105.8 710.0,1108.2C708.2,1110.6 702.8,1110.3 699.2,1111.8C695.7,1113.3 689.7,1115.1 688.5,1117.1C687.3,1119.2 689.7,1121.9 692.1,1124.3C694.5,1126.7 698.9,1128.8 702.8,1131.5C706.7,1134.2 712.1,1137.4 715.3,1140.4C718.6,1143.4 721.0,1146.4 722.5,1149.4C724.0,1152.3 724.0,1156.8 724.3,1158.3" fill="none" stroke="#80AAFF" stroke-width="26" stroke-linejoin="round" stroke-linecap="butt"/>
<path d="M593.6,1042.0C595.1,1042.3 598.7,1042.9 602.6,1043.8C606.5,1044.7 611.5,1046.1 616.9,1047.3C622.3,1048.5 628.8,1049.7 634.8,1050.9C640.8,1052.1 646.7,1053.3 652.7,1054.5C658.7,1055.7 665.2,1056.3 670.6,1058.1C676.0,1059.9 680.7,1062.6 684.9,1065.2C689.1,1067.9 692.4,1070.9 695.7,1074.2C698.9,1077.5 702.2,1081.1 704.6,1084.9C707.0,1088.8 709.1,1093.6 710.0,1097.5C710.9,1101.3 711.8,1105.8 710.0,1108.2C708.2,1110.6 702.8,1110.3 699.2,1111.8C695.7,1113.3 689.7,1115.1 688.5,1117.1C687.3,1119.2 689.7,1121.9 692.1,1124.3C694.5,1126.7 698.9,1128.8 702.8,1131.5C706.7,1134.2 712.1,1137.4 715.3,1140.4C718.6,1143.4 721.0,1146.4 722.5,1149.4C724.0,1152.3 724.0,1156.8 724.3,1158.3" fill="none" stroke="#B4CDFF" stroke-width="16" stroke-linejoin="round" stroke-linecap="butt"/>
<path d="M593.6,1042.0C595.1,1033.9 598.7,1042.9 602.6,1043.8C606.5,1044.7 611.5,1046.1 616.9,1047.3C622.3,1048.5 628.8,1049.7 634.8,1050.9C640.8,1052.1 646.7,1053.3 652.7,1054.5C658.7,1055.7 665.2,1056.3 670.6,1058.1C676.0,1059.9 680.7,1062.6 684.9,1065.2C689.1,1067.9 692.4,1070.9 695.7,1074.2C698.9,1077.5 702.2,1081.1 704.6,1084.9C707.0,1088.8 709.1,1093.6 710.0,1097.5C710.9,1101.3 711.8,1105.8 710.0,1108.2C708.2,1110.6 702.8,1110.3 699.2,1111.8C695.7,1113.3 689.7,1115.1 688.5,1117.1C687.3,1119.2 689.7,1121.9 692.1,1124.3C694.5,1126.7 698.9,1128.8 702.8,1131.5C706.7,1134.2 712.1,1137.4 715.3,1140.4C718.6,1143.4 721.0,1146.4 722.5,1149.4C724.0,1152.3 726.4,1155.3 724.3,1158.3C722.2,1161.3 715.9,1165.8 710.0,1167.3C704.0,1168.8 696.5,1168.2 688.5,1167.3C680.4,1166.4 670.0,1164.0 661.6,1161.9C653.3,1159.8 644.9,1157.7 638.4,1154.7C631.8,1151.8 626.4,1147.9 622.3,1144.0C618.1,1140.1 616.0,1137.1 613.3,1131.5C610.6,1125.8 608.2,1116.0 606.2,1110.0C604.1,1104.0 602.9,1098.7 600.8,1095.7C598.7,1092.7 594.8,1101.0 593.6,1092.1C592.4,1083.1 592.1,1050.0 593.6,1042.0Z" fill="#D7E9FF" stroke="#D7E9FF" stroke-width="8" stroke-linejoin="round"/>
<path d="M593.6,1042.0C595.1,1033.9 598.7,1042.9 602.6,1043.8C606.5,1044.7 611.5,1046.1 616.9,1047.3C622.3,1048.5 628.8,1049.7 634.8,1050.9C640.8,1052.1 646.7,1053.3 652.7,1054.5C658.7,1055.7 665.2,1056.3 670.6,1058.1C676.0,1059.9 680.7,1062.6 684.9,1065.2C689.1,1067.9 692.4,1070.9 695.7,1074.2C698.9,1077.5 702.2,1081.1 704.6,1084.9C707.0,1088.8 709.1,1093.6 710.0,1097.5C710.9,1101.3 711.8,1105.8 710.0,1108.2C708.2,1110.6 702.8,1110.3 699.2,1111.8C695.7,1113.3 689.7,1115.1 688.5,1117.1C687.3,1119.2 689.7,1121.9 692.1,1124.3C694.5,1126.7 698.9,1128.8 702.8,1131.5C706.7,1134.2 712.1,1137.4 715.3,1140.4C718.6,1143.4 721.0,1146.4 722.5,1149.4C724.0,1152.3 726.4,1155.3 724.3,1158.3C722.2,1161.3 715.9,1165.8 710.0,1167.3C704.0,1168.8 696.5,1168.2 688.5,1167.3C680.4,1166.4 670.0,1164.0 661.6,1161.9C653.3,1159.8 644.9,1157.7 638.4,1154.7C631.8,1151.8 626.4,1147.9 622.3,1144.0C618.1,1140.1 616.0,1137.1 613.3,1131.5C610.6,1125.8 608.2,1116.0 606.2,1110.0C604.1,1104.0 602.9,1098.7 600.8,1095.7C598.7,1092.7 594.8,1101.0 593.6,1092.1C592.4,1083.1 592.1,1050.0 593.6,1042.0Z" fill="#FFEAD7"/>
<path d="M595.4,1045.6C596.9,1037.5 599.3,1046.1 604.4,1047.3C609.4,1048.5 617.8,1050.9 625.8,1052.7C633.9,1054.5 644.6,1056.3 652.7,1058.1C660.8,1059.9 668.2,1061.1 674.2,1063.5C680.1,1065.8 684.3,1069.1 688.5,1072.4C692.7,1075.7 696.5,1079.3 699.2,1083.1C701.9,1087.0 704.3,1092.4 704.6,1095.7C704.9,1098.9 703.7,1100.7 701.0,1102.8C698.3,1104.9 691.5,1105.8 688.5,1108.2C685.5,1110.6 682.5,1113.9 683.1,1117.1C683.7,1120.4 688.2,1124.6 692.1,1127.9C696.0,1131.2 702.5,1133.9 706.4,1136.8C710.3,1139.8 714.1,1142.8 715.3,1145.8C716.5,1148.8 716.2,1152.3 713.6,1154.7C710.9,1157.1 704.9,1159.5 699.2,1160.1C693.6,1160.7 686.4,1159.5 679.5,1158.3C672.7,1157.1 664.6,1155.0 658.1,1152.9C651.5,1150.9 645.5,1148.5 640.2,1145.8C634.8,1143.1 629.7,1140.1 625.8,1136.8C622.0,1133.6 619.6,1130.6 616.9,1126.1C614.2,1121.6 611.8,1114.8 609.7,1110.0C607.7,1105.2 606.8,1099.8 604.4,1097.5C602.0,1095.1 596.9,1104.3 595.4,1095.7C593.9,1087.0 593.9,1053.6 595.4,1045.6Z" fill="#FFCDB4"/>
<path d="M595.4,1047.3C597.8,1041.1 604.7,1051.2 609.7,1052.7C614.8,1054.2 618.7,1054.8 625.8,1056.3C633.0,1057.8 645.2,1059.6 652.7,1061.7C660.2,1063.7 665.8,1065.8 670.6,1068.8C675.4,1071.8 678.4,1075.7 681.3,1079.6C684.3,1083.4 687.9,1088.5 688.5,1092.1C689.1,1095.7 688.5,1098.4 684.9,1101.0C681.3,1103.7 670.9,1105.5 667.0,1108.2C663.1,1110.9 660.5,1113.9 661.6,1117.1C662.8,1120.4 669.1,1124.6 674.2,1127.9C679.2,1131.2 687.9,1133.9 692.1,1136.8C696.2,1139.8 701.3,1143.7 699.2,1145.8C697.1,1147.9 687.3,1149.4 679.5,1149.4C671.8,1149.4 660.2,1147.3 652.7,1145.8C645.2,1144.3 639.9,1142.8 634.8,1140.4C629.7,1138.0 625.3,1135.0 622.3,1131.5C619.3,1127.9 619.0,1123.7 616.9,1118.9C614.8,1114.2 612.1,1107.3 609.7,1102.8C607.4,1098.4 605.0,1094.2 602.6,1092.1C600.2,1090.0 596.6,1097.8 595.4,1090.3C594.2,1082.8 593.0,1053.6 595.4,1047.3Z" fill="#FFAA80"/>
<path d="M609.7,1070.6C610.0,1067.9 611.8,1064.3 613.3,1063.5C614.8,1062.6 617.5,1063.5 618.7,1065.2C619.9,1067.0 620.8,1071.5 620.5,1074.2C620.2,1076.9 618.4,1080.5 616.9,1081.3C615.4,1082.2 612.7,1081.3 611.5,1079.6C610.3,1077.8 609.4,1073.3 609.7,1070.6Z" fill="#FFCDB4"/>
<path d="M624.1,1059.9C627.3,1056.9 636.6,1055.7 643.7,1056.3C650.9,1056.9 660.8,1061.1 667.0,1063.5C673.3,1065.8 677.8,1067.3 681.3,1070.6C684.9,1073.9 687.0,1079.0 688.5,1083.1C690.0,1087.3 691.2,1092.4 690.3,1095.7C689.4,1098.9 685.8,1101.6 683.1,1102.8C680.4,1104.0 677.5,1101.6 674.2,1102.8C670.9,1104.0 665.5,1107.9 663.4,1110.0C661.3,1112.1 663.4,1115.4 661.6,1115.4C659.9,1115.4 655.7,1112.1 652.7,1110.0C649.7,1107.9 646.7,1102.8 643.7,1102.8C640.8,1102.8 637.8,1107.3 634.8,1110.0C631.8,1112.7 628.2,1118.9 625.8,1118.9C623.5,1118.9 621.1,1114.5 620.5,1110.0C619.9,1105.5 621.7,1098.1 622.3,1092.1C622.9,1086.1 623.8,1079.6 624.1,1074.2C624.4,1068.8 620.8,1062.9 624.1,1059.9Z" fill="#FF7841"/>
<path d="M634.8,1059.9C637.5,1057.2 646.7,1056.9 652.7,1058.1C658.7,1059.3 665.8,1064.0 670.6,1067.0C675.4,1070.0 678.6,1072.7 681.3,1076.0C684.0,1079.3 686.4,1083.7 686.7,1086.7C687.0,1089.7 685.8,1093.6 683.1,1093.9C680.4,1094.2 674.8,1089.7 670.6,1088.5C666.4,1087.3 662.2,1087.6 658.1,1086.7C653.9,1085.8 649.1,1085.2 645.5,1083.1C642.0,1081.1 638.4,1078.1 636.6,1074.2C634.8,1070.3 632.1,1062.6 634.8,1059.9Z" fill="#FF501E"/>
<path d="M636.6,1063.5C638.7,1061.7 647.3,1060.5 652.7,1061.7C658.1,1062.9 664.9,1067.6 668.8,1070.6C672.7,1073.6 675.1,1077.2 676.0,1079.6C676.9,1081.9 676.6,1084.3 674.2,1084.9C671.8,1085.5 665.8,1084.3 661.6,1083.1C657.5,1081.9 652.7,1079.6 649.1,1077.8C645.5,1076.0 642.3,1074.8 640.2,1072.4C638.1,1070.0 634.5,1065.2 636.6,1063.5Z" fill="#E03000"/>
<path d="M642.0,1065.2C642.9,1064.3 649.4,1064.3 652.7,1065.2C656.0,1066.1 659.9,1069.1 661.6,1070.6C663.4,1072.1 664.3,1073.6 663.4,1074.2C662.5,1074.8 659.0,1074.8 656.3,1074.2C653.6,1073.6 649.7,1072.1 647.3,1070.6C644.9,1069.1 641.1,1066.1 642.0,1065.2Z" fill="#B41A00"/>
<path d="M592.7,1045.6C593.8,1040.8 597.1,1045.3 599.0,1045.6C600.9,1045.8 603.2,1045.0 604.4,1047.3C605.6,1049.7 606.2,1055.4 606.2,1059.9C606.2,1064.3 605.1,1069.4 604.4,1074.2C603.6,1079.0 603.2,1086.1 601.7,1088.5C600.2,1090.9 596.9,1090.9 595.4,1088.5C593.9,1086.1 593.2,1081.3 592.7,1074.2C592.3,1067.0 591.7,1050.3 592.7,1045.6Z" fill="#FF7841"/>
<path d="M594.5,1052.7C595.7,1050.6 599.3,1049.7 600.8,1050.9C602.3,1052.1 603.2,1056.0 603.5,1059.9C603.8,1063.7 603.3,1070.3 602.6,1074.2C601.8,1078.1 600.2,1082.5 599.0,1083.1C597.8,1083.7 596.3,1081.1 595.4,1077.8C594.6,1074.5 594.1,1067.6 594.0,1063.5C593.8,1059.3 593.4,1054.8 594.5,1052.7Z" fill="#E03000"/>
<path d="M596.3,1059.9C597.1,1057.8 599.9,1056.9 600.8,1058.1C601.7,1059.3 602.0,1064.3 601.7,1067.0C601.4,1069.7 599.9,1073.6 599.0,1074.2C598.1,1074.8 596.8,1073.0 596.3,1070.6C595.9,1068.2 595.6,1062.0 596.3,1059.9Z" fill="#B41A00"/>
<path d="M659.9,1131.5C660.2,1130.1 665.2,1127.3 667.0,1127.0C668.8,1126.7 670.9,1128.3 670.6,1129.7C670.3,1131.0 667.0,1134.7 665.2,1135.0C663.4,1135.3 659.6,1132.8 659.9,1131.5Z" fill="#FF7841"/>
<path d="M695.7,1111.8C695.7,1109.5 699.8,1108.3 702.8,1107.3C705.8,1106.3 710.0,1105.9 713.6,1106.0C717.1,1106.2 722.5,1105.0 724.3,1108.2C726.1,1111.4 726.1,1122.4 724.3,1125.2C722.5,1128.0 717.1,1125.9 713.6,1125.2C710.0,1124.5 705.8,1123.0 702.8,1120.7C699.8,1118.5 695.7,1114.0 695.7,1111.8Z" fill="#B4CDFF" stroke="#B4CDFF" stroke-width="22" stroke-linejoin="round"/>
<path d="M695.7,1111.8C695.7,1109.5 699.8,1108.3 702.8,1107.3C705.8,1106.3 710.0,1105.9 713.6,1106.0C717.1,1106.2 722.5,1105.0 724.3,1108.2C726.1,1111.4 726.1,1122.4 724.3,1125.2C722.5,1128.0 717.1,1125.9 713.6,1125.2C710.0,1124.5 705.8,1123.0 702.8,1120.7C699.8,1118.5 695.7,1114.0 695.7,1111.8Z" fill="#80AAFF" stroke="#80AAFF" stroke-width="12" stroke-linejoin="round"/>
<path d="M695.7,1111.8C695.7,1109.5 699.8,1108.3 702.8,1107.3C705.8,1106.3 710.0,1105.9 713.6,1106.0C717.1,1106.2 722.5,1105.0 724.3,1108.2C726.1,1111.4 726.1,1122.4 724.3,1125.2C722.5,1128.0 717.1,1125.9 713.6,1125.2C710.0,1124.5 705.8,1123.0 702.8,1120.7C699.8,1118.5 695.7,1114.0 695.7,1111.8Z" fill="#4178FF"/>
<path d="M710.9,1110.0C712.7,1108.2 722.1,1107.7 724.3,1109.6C726.5,1111.6 726.1,1119.8 724.3,1121.6C722.5,1123.4 715.8,1122.3 713.6,1120.4C711.3,1118.4 709.1,1111.8 710.9,1110.0Z" fill="#1E50FF"/>
<path d="M582.0,1070.0C582.7,1065.7 587.8,1064.7 591.0,1068.0C594.2,1071.3 598.2,1082.7 601.0,1090.0C603.8,1097.3 608.7,1108.0 608.0,1112.0C607.3,1116.0 600.5,1117.0 597.0,1114.0C593.5,1111.0 589.5,1101.3 587.0,1094.0C584.5,1086.7 581.3,1074.3 582.0,1070.0Z" fill="#D7E9FF"/>
<path d="M574.7,1112.1C575.2,1114.8 577.2,1123.3 577.5,1128.0C577.9,1132.7 577.3,1137.5 576.6,1140.1C575.9,1142.8 575.4,1142.3 573.3,1143.9C571.2,1145.4 566.2,1147.3 564.0,1149.5C561.8,1151.7 559.8,1154.0 560.3,1157.0C560.7,1159.9 563.4,1165.2 566.8,1167.2C570.2,1169.2 576.9,1168.0 580.8,1169.1C584.7,1170.2 587.2,1172.1 590.1,1173.8C593.1,1175.5 595.9,1177.2 598.6,1179.4C601.2,1181.5 602.1,1183.7 606.0,1186.8C610.0,1190.0 618.4,1194.1 622.3,1198.1C626.2,1202.1 627.9,1205.6 629.4,1210.6C630.9,1215.7 630.6,1222.6 631.2,1228.5C631.8,1234.5 632.4,1240.5 633.0,1246.4C633.6,1252.4 634.8,1259.3 634.8,1264.3C634.8,1269.4 634.8,1273.0 633.0,1276.9C631.2,1280.7 627.9,1285.2 624.1,1287.6C620.2,1290.0 612.1,1290.6 609.7,1291.2" fill="none" stroke="#D7E9FF" stroke-width="70" stroke-linejoin="round" stroke-linecap="butt"/>
<path d="M574.7,1112.1C575.2,1114.8 577.2,1123.3 577.5,1128.0C577.9,1132.7 577.3,1137.5 576.6,1140.1C575.9,1142.8 575.4,1142.3 573.3,1143.9C571.2,1145.4 566.2,1147.3 564.0,1149.5C561.8,1151.7 559.8,1154.0 560.3,1157.0C560.7,1159.9 563.4,1165.2 566.8,1167.2C570.2,1169.2 576.9,1168.0 580.8,1169.1C584.7,1170.2 587.2,1172.1 590.1,1173.8C593.1,1175.5 595.9,1177.2 598.6,1179.4C601.2,1181.5 602.1,1183.7 606.0,1186.8C610.0,1190.0 618.4,1194.1 622.3,1198.1C626.2,1202.1 627.9,1205.6 629.4,1210.6C630.9,1215.7 630.6,1222.6 631.2,1228.5C631.8,1234.5 632.4,1240.5 633.0,1246.4C633.6,1252.4 634.8,1259.3 634.8,1264.3C634.8,1269.4 634.8,1273.0 633.0,1276.9C631.2,1280.7 627.9,1285.2 624.1,1287.6C620.2,1290.0 612.1,1290.6 609.7,1291.2" fill="none" stroke="#B4CDFF" stroke-width="61" stroke-linejoin="round" stroke-linecap="butt"/>
<path d="M574.7,1112.1C575.2,1114.8 577.2,1123.3 577.5,1128.0C577.9,1132.7 577.3,1137.5 576.6,1140.1C575.9,1142.8 575.4,1142.3 573.3,1143.9C571.2,1145.4 566.2,1147.3 564.0,1149.5C561.8,1151.7 559.8,1154.0 560.3,1157.0C560.7,1159.9 563.4,1165.2 566.8,1167.2C570.2,1169.2 576.9,1168.0 580.8,1169.1C584.7,1170.2 587.2,1172.1 590.1,1173.8C593.1,1175.5 595.9,1177.2 598.6,1179.4C601.2,1181.5 602.1,1183.7 606.0,1186.8C610.0,1190.0 618.4,1194.1 622.3,1198.1C626.2,1202.1 627.9,1205.6 629.4,1210.6C630.9,1215.7 630.6,1222.6 631.2,1228.5C631.8,1234.5 632.4,1240.5 633.0,1246.4C633.6,1252.4 634.8,1259.3 634.8,1264.3C634.8,1269.4 634.8,1273.0 633.0,1276.9C631.2,1280.7 627.9,1285.2 624.1,1287.6C620.2,1290.0 612.1,1290.6 609.7,1291.2" fill="none" stroke="#80AAFF" stroke-width="52" stroke-linejoin="round" stroke-linecap="butt"/>
<path d="M574.7,1112.1C575.2,1114.8 577.2,1123.3 577.5,1128.0C577.9,1132.7 577.3,1137.5 576.6,1140.1C575.9,1142.8 575.4,1142.3 573.3,1143.9C571.2,1145.4 566.2,1147.3 564.0,1149.5C561.8,1151.7 559.8,1154.0 560.3,1157.0C560.7,1159.9 563.4,1165.2 566.8,1167.2C570.2,1169.2 576.9,1168.0 580.8,1169.1C584.7,1170.2 587.2,1172.1 590.1,1173.8C593.1,1175.5 595.9,1177.2 598.6,1179.4C601.2,1181.5 602.1,1183.7 606.0,1186.8C610.0,1190.0 618.4,1194.1 622.3,1198.1C626.2,1202.1 627.9,1205.6 629.4,1210.6C630.9,1215.7 630.6,1222.6 631.2,1228.5C631.8,1234.5 632.4,1240.5 633.0,1246.4C633.6,1252.4 634.8,1259.3 634.8,1264.3C634.8,1269.4 634.8,1273.0 633.0,1276.9C631.2,1280.7 627.9,1285.2 624.1,1287.6C620.2,1290.0 612.1,1290.6 609.7,1291.2" fill="none" stroke="#4178FF" stroke-width="45" stroke-linejoin="round" stroke-linecap="butt"/>
<path d="M574.7,1112.1C575.2,1114.8 577.2,1123.3 577.5,1128.0C577.9,1132.7 577.3,1137.5 576.6,1140.1C575.9,1142.8 575.4,1142.3 573.3,1143.9C571.2,1145.4 566.2,1147.3 564.0,1149.5C561.8,1151.7 559.8,1154.0 560.3,1157.0C560.7,1159.9 563.4,1165.2 566.8,1167.2C570.2,1169.2 576.9,1168.0 580.8,1169.1C584.7,1170.2 587.2,1172.1 590.1,1173.8C593.1,1175.5 595.9,1177.2 598.6,1179.4C601.2,1181.5 602.1,1183.7 606.0,1186.8C610.0,1190.0 618.4,1194.1 622.3,1198.1C626.2,1202.1 627.9,1205.6 629.4,1210.6C630.9,1215.7 630.6,1222.6 631.2,1228.5C631.8,1234.5 632.4,1240.5 633.0,1246.4C633.6,1252.4 634.8,1259.3 634.8,1264.3C634.8,1269.4 634.8,1273.0 633.0,1276.9C631.2,1280.7 627.9,1285.2 624.1,1287.6C620.2,1290.0 612.1,1290.6 609.7,1291.2" fill="none" stroke="#1E50FF" stroke-width="37" stroke-linejoin="round" stroke-linecap="butt"/>
<path d="M574.7,1112.1C575.2,1114.8 577.2,1123.3 577.5,1128.0C577.9,1132.7 577.3,1137.5 576.6,1140.1C575.9,1142.8 575.4,1142.3 573.3,1143.9C571.2,1145.4 566.2,1147.3 564.0,1149.5C561.8,1151.7 559.8,1154.0 560.3,1157.0C560.7,1159.9 563.4,1165.2 566.8,1167.2C570.2,1169.2 576.9,1168.0 580.8,1169.1C584.7,1170.2 587.2,1172.1 590.1,1173.8C593.1,1175.5 595.9,1177.2 598.6,1179.4C601.2,1181.5 602.1,1183.7 606.0,1186.8C610.0,1190.0 618.4,1194.1 622.3,1198.1C626.2,1202.1 627.9,1205.6 629.4,1210.6C630.9,1215.7 630.6,1222.6 631.2,1228.5C631.8,1234.5 632.4,1240.5 633.0,1246.4C633.6,1252.4 634.8,1259.3 634.8,1264.3C634.8,1269.4 634.8,1273.0 633.0,1276.9C631.2,1280.7 627.9,1285.2 624.1,1287.6C620.2,1290.0 612.1,1290.6 609.7,1291.2" fill="none" stroke="#0030E0" stroke-width="24" stroke-linejoin="round" stroke-linecap="butt"/>
<path d="M574.7,1112.1C575.2,1114.8 577.2,1123.3 577.5,1128.0C577.9,1132.7 577.3,1137.5 576.6,1140.1C575.9,1142.8 575.4,1142.3 573.3,1143.9C571.2,1145.4 566.2,1147.3 564.0,1149.5C561.8,1151.7 559.8,1154.0 560.3,1157.0C560.7,1159.9 563.4,1165.2 566.8,1167.2C570.2,1169.2 576.9,1168.0 580.8,1169.1C584.7,1170.2 587.2,1172.1 590.1,1173.8C593.1,1175.5 595.9,1177.2 598.6,1179.4C601.2,1181.5 602.1,1183.7 606.0,1186.8C610.0,1190.0 618.4,1194.1 622.3,1198.1C626.2,1202.1 627.9,1205.6 629.4,1210.6C630.9,1215.7 630.6,1222.6 631.2,1228.5C631.8,1234.5 632.4,1240.5 633.0,1246.4C633.6,1252.4 634.8,1259.3 634.8,1264.3C634.8,1269.4 634.8,1273.0 633.0,1276.9C631.2,1280.7 627.9,1285.2 624.1,1287.6C620.2,1290.0 612.1,1290.6 609.7,1291.2" fill="none" stroke="#001AB4" stroke-width="13" stroke-linejoin="round" stroke-linecap="butt"/>
<path d="M624.1,1287.6C621.7,1288.2 614.1,1290.0 609.7,1291.2C605.4,1292.4 602.8,1293.3 597.8,1294.8C592.8,1296.3 585.9,1298.6 579.9,1300.1C573.9,1301.6 568.5,1303.7 562.0,1303.7C555.4,1303.7 547.1,1302.8 540.5,1300.1C533.9,1297.5 528.0,1292.1 522.6,1287.6C517.2,1283.1 512.8,1278.1 508.3,1273.3C503.8,1268.5 499.3,1264.0 495.8,1259.0C492.2,1253.9 488.3,1245.5 486.8,1242.9" fill="none" stroke="#80AAFF" stroke-width="38" stroke-linejoin="round" stroke-linecap="butt"/>
<path d="M624.1,1287.6C621.7,1288.2 614.1,1290.0 609.7,1291.2C605.4,1292.4 602.8,1293.3 597.8,1294.8C592.8,1296.3 585.9,1298.6 579.9,1300.1C573.9,1301.6 568.5,1303.7 562.0,1303.7C555.4,1303.7 547.1,1302.8 540.5,1300.1C533.9,1297.5 528.0,1292.1 522.6,1287.6C517.2,1283.1 512.8,1278.1 508.3,1273.3C503.8,1268.5 499.3,1264.0 495.8,1259.0C492.2,1253.9 488.3,1245.5 486.8,1242.9" fill="none" stroke="#4178FF" stroke-width="30" stroke-linejoin="round" stroke-linecap="butt"/>
<path d="M624.1,1287.6C621.7,1288.2 614.1,1290.0 609.7,1291.2C605.4,1292.4 602.8,1293.3 597.8,1294.8C592.8,1296.3 585.9,1298.6 579.9,1300.1C573.9,1301.6 568.5,1303.7 562.0,1303.7C555.4,1303.7 547.1,1302.8 540.5,1300.1C533.9,1297.5 528.0,1292.1 522.6,1287.6C517.2,1283.1 512.8,1278.1 508.3,1273.3C503.8,1268.5 499.3,1264.0 495.8,1259.0C492.2,1253.9 488.3,1245.5 486.8,1242.9" fill="none" stroke="#1E50FF" stroke-width="22" stroke-linejoin="round" stroke-linecap="butt"/>
<path d="M624.1,1287.6C621.7,1288.2 614.1,1290.0 609.7,1291.2C605.4,1292.4 602.8,1293.3 597.8,1294.8C592.8,1296.3 585.9,1298.6 579.9,1300.1C573.9,1301.6 568.5,1303.7 562.0,1303.7C555.4,1303.7 547.1,1302.8 540.5,1300.1C533.9,1297.5 528.0,1292.1 522.6,1287.6C517.2,1283.1 512.8,1278.1 508.3,1273.3C503.8,1268.5 499.3,1264.0 495.8,1259.0C492.2,1253.9 488.3,1245.5 486.8,1242.9" fill="none" stroke="#0030E0" stroke-width="14" stroke-linejoin="round" stroke-linecap="butt"/>
<path d="M495.8,1259.0C494.3,1256.3 489.5,1248.5 486.8,1242.9C484.1,1237.2 482.0,1231.8 479.7,1225.0C477.3,1218.1 474.3,1210.0 472.5,1201.7C470.7,1193.3 469.8,1183.8 468.9,1174.8C468.0,1165.9 467.4,1155.8 467.1,1148.0C466.8,1140.2 467.1,1134.2 467.1,1127.9C467.1,1121.6 467.0,1116.0 467.1,1110.0C467.3,1104.0 467.6,1098.1 468.0,1092.1C468.5,1086.1 469.1,1079.0 469.8,1074.2C470.6,1069.4 471.2,1066.7 472.5,1063.5C473.8,1060.2 477.0,1056.0 477.9,1054.5" fill="none" stroke="#80AAFF" stroke-width="22" stroke-linejoin="round" stroke-linecap="butt"/>
<path d="M495.8,1259.0C494.3,1256.3 489.5,1248.5 486.8,1242.9C484.1,1237.2 482.0,1231.8 479.7,1225.0C477.3,1218.1 474.3,1210.0 472.5,1201.7C470.7,1193.3 469.8,1183.8 468.9,1174.8C468.0,1165.9 467.4,1155.8 467.1,1148.0C466.8,1140.2 467.1,1134.2 467.1,1127.9C467.1,1121.6 467.0,1116.0 467.1,1110.0C467.3,1104.0 467.6,1098.1 468.0,1092.1C468.5,1086.1 469.1,1079.0 469.8,1074.2C470.6,1069.4 471.2,1066.7 472.5,1063.5C473.8,1060.2 477.0,1056.0 477.9,1054.5" fill="none" stroke="#4178FF" stroke-width="17" stroke-linejoin="round" stroke-linecap="butt"/>
<path d="M495.8,1259.0C494.3,1256.3 489.5,1248.5 486.8,1242.9C484.1,1237.2 482.0,1231.8 479.7,1225.0C477.3,1218.1 474.3,1210.0 472.5,1201.7C470.7,1193.3 469.8,1183.8 468.9,1174.8C468.0,1165.9 467.4,1155.8 467.1,1148.0C466.8,1140.2 467.1,1134.2 467.1,1127.9C467.1,1121.6 467.0,1116.0 467.1,1110.0C467.3,1104.0 467.6,1098.1 468.0,1092.1C468.5,1086.1 469.1,1079.0 469.8,1074.2C470.6,1069.4 471.2,1066.7 472.5,1063.5C473.8,1060.2 477.0,1056.0 477.9,1054.5" fill="none" stroke="#1E50FF" stroke-width="12" stroke-linejoin="round" stroke-linecap="butt"/>
<path d="M495.8,1259.0C494.3,1256.3 489.5,1248.5 486.8,1242.9C484.1,1237.2 482.0,1231.8 479.7,1225.0C477.3,1218.1 474.3,1210.0 472.5,1201.7C470.7,1193.3 469.8,1183.8 468.9,1174.8C468.0,1165.9 467.4,1155.8 467.1,1148.0C466.8,1140.2 467.1,1134.2 467.1,1127.9C467.1,1121.6 467.0,1116.0 467.1,1110.0C467.3,1104.0 467.6,1098.1 468.0,1092.1C468.5,1086.1 469.1,1079.0 469.8,1074.2C470.6,1069.4 471.2,1066.7 472.5,1063.5C473.8,1060.2 477.0,1056.0 477.9,1054.5" fill="none" stroke="#0030E0" stroke-width="7" stroke-linejoin="round" stroke-linecap="butt"/>
<path d="M734.1,1072.4C736.2,1071.2 740.7,1074.8 744.0,1077.8C747.3,1080.8 751.0,1086.0 753.8,1090.3C756.7,1094.6 759.0,1098.9 761.0,1103.7C762.9,1108.5 764.1,1113.4 765.5,1118.9C766.8,1124.5 768.3,1129.8 769.0,1136.8C769.8,1143.8 769.6,1157.6 769.9,1161.0C770.2,1164.4 770.7,1154.6 770.8,1156.9C771.0,1159.3 771.1,1168.9 770.8,1174.8C770.5,1180.8 770.2,1187.4 769.0,1192.7C767.8,1198.1 765.8,1202.6 763.7,1207.1C761.6,1211.5 759.2,1216.0 756.5,1219.6C753.8,1223.2 750.5,1227.4 747.6,1228.5C744.6,1229.7 741.3,1228.8 738.6,1226.8C735.9,1224.7 733.5,1220.2 731.5,1216.0C729.4,1211.8 727.3,1207.1 726.1,1201.7C724.9,1196.3 724.6,1189.8 724.3,1183.8C724.0,1177.8 724.0,1171.9 724.3,1165.9C724.6,1159.9 726.4,1152.8 726.1,1148.0C725.8,1143.2 722.7,1141.7 722.5,1136.8C722.4,1132.0 724.1,1124.9 725.2,1118.9C726.2,1113.0 727.7,1106.7 728.8,1101.0C729.8,1095.4 730.6,1089.7 731.5,1084.9C732.3,1080.2 732.0,1073.6 734.1,1072.4Z" fill="#4178FF" stroke="#4178FF" stroke-width="40" stroke-linejoin="round"/>
<path d="M734.1,1072.4C736.2,1071.2 740.7,1074.8 744.0,1077.8C747.3,1080.8 751.0,1086.0 753.8,1090.3C756.7,1094.6 759.0,1098.9 761.0,1103.7C762.9,1108.5 764.1,1113.4 765.5,1118.9C766.8,1124.5 768.3,1129.8 769.0,1136.8C769.8,1143.8 769.6,1157.6 769.9,1161.0C770.2,1164.4 770.7,1154.6 770.8,1156.9C771.0,1159.3 771.1,1168.9 770.8,1174.8C770.5,1180.8 770.2,1187.4 769.0,1192.7C767.8,1198.1 765.8,1202.6 763.7,1207.1C761.6,1211.5 759.2,1216.0 756.5,1219.6C753.8,1223.2 750.5,1227.4 747.6,1228.5C744.6,1229.7 741.3,1228.8 738.6,1226.8C735.9,1224.7 733.5,1220.2 731.5,1216.0C729.4,1211.8 727.3,1207.1 726.1,1201.7C724.9,1196.3 724.6,1189.8 724.3,1183.8C724.0,1177.8 724.0,1171.9 724.3,1165.9C724.6,1159.9 726.4,1152.8 726.1,1148.0C725.8,1143.2 722.7,1141.7 722.5,1136.8C722.4,1132.0 724.1,1124.9 725.2,1118.9C726.2,1113.0 727.7,1106.7 728.8,1101.0C729.8,1095.4 730.6,1089.7 731.5,1084.9C732.3,1080.2 732.0,1073.6 734.1,1072.4Z" fill="#1E50FF" stroke="#1E50FF" stroke-width="28" stroke-linejoin="round"/>
<path d="M734.1,1072.4C736.2,1071.2 740.7,1074.8 744.0,1077.8C747.3,1080.8 751.0,1086.0 753.8,1090.3C756.7,1094.6 759.0,1098.9 761.0,1103.7C762.9,1108.5 764.1,1113.4 765.5,1118.9C766.8,1124.5 768.3,1129.8 769.0,1136.8C769.8,1143.8 769.6,1157.6 769.9,1161.0C770.2,1164.4 770.7,1154.6 770.8,1156.9C771.0,1159.3 771.1,1168.9 770.8,1174.8C770.5,1180.8 770.2,1187.4 769.0,1192.7C767.8,1198.1 765.8,1202.6 763.7,1207.1C761.6,1211.5 759.2,1216.0 756.5,1219.6C753.8,1223.2 750.5,1227.4 747.6,1228.5C744.6,1229.7 741.3,1228.8 738.6,1226.8C735.9,1224.7 733.5,1220.2 731.5,1216.0C729.4,1211.8 727.3,1207.1 726.1,1201.7C724.9,1196.3 724.6,1189.8 724.3,1183.8C724.0,1177.8 724.0,1171.9 724.3,1165.9C724.6,1159.9 726.4,1152.8 726.1,1148.0C725.8,1143.2 722.7,1141.7 722.5,1136.8C722.4,1132.0 724.1,1124.9 725.2,1118.9C726.2,1113.0 727.7,1106.7 728.8,1101.0C729.8,1095.4 730.6,1089.7 731.5,1084.9C732.3,1080.2 732.0,1073.6 734.1,1072.4Z" fill="#0030E0" stroke="#0030E0" stroke-width="18" stroke-linejoin="round"/>
<path d="M734.1,1072.4C736.2,1071.2 740.7,1074.8 744.0,1077.8C747.3,1080.8 751.0,1086.0 753.8,1090.3C756.7,1094.6 759.0,1098.9 761.0,1103.7C762.9,1108.5 764.1,1113.4 765.5,1118.9C766.8,1124.5 768.3,1129.8 769.0,1136.8C769.8,1143.8 769.6,1157.6 769.9,1161.0C770.2,1164.4 770.7,1154.6 770.8,1156.9C771.0,1159.3 771.1,1168.9 770.8,1174.8C770.5,1180.8 770.2,1187.4 769.0,1192.7C767.8,1198.1 765.8,1202.6 763.7,1207.1C761.6,1211.5 759.2,1216.0 756.5,1219.6C753.8,1223.2 750.5,1227.4 747.6,1228.5C744.6,1229.7 741.3,1228.8 738.6,1226.8C735.9,1224.7 733.5,1220.2 731.5,1216.0C729.4,1211.8 727.3,1207.1 726.1,1201.7C724.9,1196.3 724.6,1189.8 724.3,1183.8C724.0,1177.8 724.0,1171.9 724.3,1165.9C724.6,1159.9 726.4,1152.8 726.1,1148.0C725.8,1143.2 722.7,1141.7 722.5,1136.8C722.4,1132.0 724.1,1124.9 725.2,1118.9C726.2,1113.0 727.7,1106.7 728.8,1101.0C729.8,1095.4 730.6,1089.7 731.5,1084.9C732.3,1080.2 732.0,1073.6 734.1,1072.4Z" fill="#001AB4" stroke="#001AB4" stroke-width="9" stroke-linejoin="round"/>
<path d="M734.1,1072.4C736.2,1071.2 740.7,1074.8 744.0,1077.8C747.3,1080.8 751.0,1086.0 753.8,1090.3C756.7,1094.6 759.0,1098.9 761.0,1103.7C762.9,1108.5 764.1,1113.4 765.5,1118.9C766.8,1124.5 768.3,1129.8 769.0,1136.8C769.8,1143.8 769.6,1157.6 769.9,1161.0C770.2,1164.4 770.7,1154.6 770.8,1156.9C771.0,1159.3 771.1,1168.9 770.8,1174.8C770.5,1180.8 770.2,1187.4 769.0,1192.7C767.8,1198.1 765.8,1202.6 763.7,1207.1C761.6,1211.5 759.2,1216.0 756.5,1219.6C753.8,1223.2 750.5,1227.4 747.6,1228.5C744.6,1229.7 741.3,1228.8 738.6,1226.8C735.9,1224.7 733.5,1220.2 731.5,1216.0C729.4,1211.8 727.3,1207.1 726.1,1201.7C724.9,1196.3 724.6,1189.8 724.3,1183.8C724.0,1177.8 724.0,1171.9 724.3,1165.9C724.6,1159.9 726.4,1152.8 726.1,1148.0C725.8,1143.2 722.7,1141.7 722.5,1136.8C722.4,1132.0 724.1,1124.9 725.2,1118.9C726.2,1113.0 727.7,1106.7 728.8,1101.0C729.8,1095.4 730.6,1089.7 731.5,1084.9C732.3,1080.2 732.0,1073.6 734.1,1072.4Z" fill="#000090"/>
<path d="M477.9,1056.3C479.7,1052.7 480.0,1046.1 483.2,1042.0C486.5,1037.8 493.4,1033.5 497.6,1031.2C501.7,1029.0 504.7,1028.2 508.3,1028.5C511.9,1028.8 516.3,1030.2 519.0,1033.0C521.7,1035.9 523.8,1041.1 524.4,1045.6C525.0,1050.0 523.5,1055.1 522.6,1059.9C521.7,1064.6 520.2,1069.4 519.0,1074.2C517.8,1079.0 515.5,1084.3 515.5,1088.5C515.5,1092.7 516.3,1096.9 519.0,1099.2C521.7,1101.6 527.4,1102.5 531.6,1102.8C535.7,1103.1 539.6,1101.6 544.1,1101.0C548.6,1100.4 554.2,1099.2 558.4,1099.2C562.6,1099.2 566.4,1098.9 569.1,1101.0C571.9,1103.2 573.3,1107.6 574.7,1112.1C576.1,1116.6 577.2,1123.3 577.5,1128.0C577.9,1132.7 577.3,1137.5 576.6,1140.1C575.9,1142.8 575.4,1142.3 573.3,1143.9C571.2,1145.4 566.2,1147.3 564.0,1149.5C561.8,1151.7 559.8,1154.0 560.3,1157.0C560.7,1159.9 563.4,1165.2 566.8,1167.2C570.2,1169.2 576.9,1168.0 580.8,1169.1C584.7,1170.2 587.2,1172.1 590.1,1173.8C593.1,1175.5 595.9,1177.2 598.6,1179.4C601.2,1181.5 602.1,1183.7 606.0,1186.8C610.0,1190.0 618.4,1194.1 622.3,1198.1C626.2,1202.1 627.9,1205.6 629.4,1210.6C630.9,1215.7 630.6,1222.6 631.2,1228.5C631.8,1234.5 632.4,1240.5 633.0,1246.4C633.6,1252.4 634.8,1259.3 634.8,1264.3C634.8,1269.4 634.8,1273.0 633.0,1276.9C631.2,1280.7 627.9,1285.2 624.1,1287.6C620.2,1290.0 614.1,1290.0 609.7,1291.2C605.4,1292.4 602.8,1293.3 597.8,1294.8C592.8,1296.3 585.9,1298.6 579.9,1300.1C573.9,1301.6 568.5,1303.7 562.0,1303.7C555.4,1303.7 547.1,1302.8 540.5,1300.1C533.9,1297.5 528.0,1292.1 522.6,1287.6C517.2,1283.1 512.8,1278.1 508.3,1273.3C503.8,1268.5 499.3,1264.0 495.8,1259.0C492.2,1253.9 489.5,1248.5 486.8,1242.9C484.1,1237.2 482.0,1231.8 479.7,1225.0C477.3,1218.1 474.3,1210.0 472.5,1201.7C470.7,1193.3 469.8,1183.8 468.9,1174.8C468.0,1165.9 467.4,1155.8 467.1,1148.0C466.8,1140.2 467.1,1134.2 467.1,1127.9C467.1,1121.6 467.0,1116.0 467.1,1110.0C467.3,1104.0 467.6,1098.1 468.0,1092.1C468.5,1086.1 469.1,1079.0 469.8,1074.2C470.6,1069.4 471.2,1066.4 472.5,1063.5C473.8,1060.5 476.1,1059.9 477.9,1056.3Z" fill="#001AB4" stroke="#001AB4" stroke-width="7" stroke-linejoin="round"/>
<path d="M477.9,1056.3C479.7,1052.7 480.0,1046.1 483.2,1042.0C486.5,1037.8 493.4,1033.5 497.6,1031.2C501.7,1029.0 504.7,1028.2 508.3,1028.5C511.9,1028.8 516.3,1030.2 519.0,1033.0C521.7,1035.9 523.8,1041.1 524.4,1045.6C525.0,1050.0 523.5,1055.1 522.6,1059.9C521.7,1064.6 520.2,1069.4 519.0,1074.2C517.8,1079.0 515.5,1084.3 515.5,1088.5C515.5,1092.7 516.3,1096.9 519.0,1099.2C521.7,1101.6 527.4,1102.5 531.6,1102.8C535.7,1103.1 539.6,1101.6 544.1,1101.0C548.6,1100.4 554.2,1099.2 558.4,1099.2C562.6,1099.2 566.4,1098.9 569.1,1101.0C571.9,1103.2 573.3,1107.6 574.7,1112.1C576.1,1116.6 577.2,1123.3 577.5,1128.0C577.9,1132.7 577.3,1137.5 576.6,1140.1C575.9,1142.8 575.4,1142.3 573.3,1143.9C571.2,1145.4 566.2,1147.3 564.0,1149.5C561.8,1151.7 559.8,1154.0 560.3,1157.0C560.7,1159.9 563.4,1165.2 566.8,1167.2C570.2,1169.2 576.9,1168.0 580.8,1169.1C584.7,1170.2 587.2,1172.1 590.1,1173.8C593.1,1175.5 595.9,1177.2 598.6,1179.4C601.2,1181.5 602.1,1183.7 606.0,1186.8C610.0,1190.0 618.4,1194.1 622.3,1198.1C626.2,1202.1 627.9,1205.6 629.4,1210.6C630.9,1215.7 630.6,1222.6 631.2,1228.5C631.8,1234.5 632.4,1240.5 633.0,1246.4C633.6,1252.4 634.8,1259.3 634.8,1264.3C634.8,1269.4 634.8,1273.0 633.0,1276.9C631.2,1280.7 627.9,1285.2 624.1,1287.6C620.2,1290.0 614.1,1290.0 609.7,1291.2C605.4,1292.4 602.8,1293.3 597.8,1294.8C592.8,1296.3 585.9,1298.6 579.9,1300.1C573.9,1301.6 568.5,1303.7 562.0,1303.7C555.4,1303.7 547.1,1302.8 540.5,1300.1C533.9,1297.5 528.0,1292.1 522.6,1287.6C517.2,1283.1 512.8,1278.1 508.3,1273.3C503.8,1268.5 499.3,1264.0 495.8,1259.0C492.2,1253.9 489.5,1248.5 486.8,1242.9C484.1,1237.2 482.0,1231.8 479.7,1225.0C477.3,1218.1 474.3,1210.0 472.5,1201.7C470.7,1193.3 469.8,1183.8 468.9,1174.8C468.0,1165.9 467.4,1155.8 467.1,1148.0C466.8,1140.2 467.1,1134.2 467.1,1127.9C467.1,1121.6 467.0,1116.0 467.1,1110.0C467.3,1104.0 467.6,1098.1 468.0,1092.1C468.5,1086.1 469.1,1079.0 469.8,1074.2C470.6,1069.4 471.2,1066.4 472.5,1063.5C473.8,1060.5 476.1,1059.9 477.9,1056.3Z" fill="#000090"/>
<path d="M600.8,1237.5C601.7,1233.6 607.1,1232.1 609.7,1232.1C612.4,1232.1 614.8,1233.6 616.9,1237.5C619.0,1241.4 621.7,1250.6 622.3,1255.4C622.9,1260.2 622.3,1264.3 620.5,1266.1C618.7,1267.9 614.2,1267.9 611.5,1266.1C608.8,1264.3 606.2,1260.2 604.4,1255.4C602.6,1250.6 599.9,1241.4 600.8,1237.5Z" fill="#001AB4"/>
<path d="M601.4,1233.9C602.7,1231.2 611.1,1228.5 613.0,1232.1C614.9,1235.7 614.3,1252.7 613.0,1255.4C611.7,1258.1 606.9,1251.8 604.9,1248.2C603.0,1244.7 600.0,1236.6 601.4,1233.9Z" fill="#001AB4"/>
</g>
<path d="M467.0,1060.0 468.2,1069.9 468.2,1076.1 471.9,1083.6 475.7,1088.6 476.9,1094.8 481.9,1097.3 486.9,1097.3 491.9,1095.5 498.1,1096.7 504.3,1098.6 510.5,1100.4 515.5,1102.3 519.3,1107.3 524.2,1112.3 528.0,1117.2 531.7,1123.5 535.4,1117.2 539.2,1113.5 546.7,1111.0 554.1,1108.5 560.4,1103.5 563.5,1096.1 564.7,1087.4 566.6,1077.4 567.8,1069.9 571.6,1062.5 576.5,1056.2 582.8,1051.2 583.4,1043.8 586.5,1041.3 589.0,1042.5 590.2,1038.8 594.0,1037.5 599.0,1035.1 602.1,1033.8 603.9,1037.5 606.4,1038.8 614.5,1033.8 606.7,1038.0 615.6,1033.5 622.8,1032.6 635.3,1035.3 647.8,1040.7 656.8,1044.3 667.5,1045.2 676.5,1046.9 679.1,1044.3 681.8,1046.9 682.7,1055.9 689.0,1054.1 697.9,1054.1 706.9,1059.5 711.4,1064.8 715.8,1062.2 724.8,1063.1 728.4,1068.4 727.5,1073.8 727.5,1082.7 730.2,1089.9 732.8,1097.1 734.6,1106.0 730.2,1109.6 724.8,1111.4 721.2,1115.0 724.8,1116.7 728.4,1123.9 735.5,1127.5 742.7,1132.9 748.1,1140.0 750.7,1149.0 751.6,1160.6 752.5,1165.5 753.4,1185.2 748.1,1194.1 742.7,1201.3 744.5,1208.5 744.5,1215.6 735.5,1219.2 730.2,1226.4 726.6,1235.3 723.0,1238.9 717.6,1245.1 717.6,1251.4 714.1,1256.8 706.9,1260.4 696.2,1265.7 689.0,1269.3 680.0,1270.2 672.9,1271.1 665.7,1272.9 658.6,1273.8 651.4,1274.7 646.0,1273.8 643.4,1269.3 640.7,1272.9 637.1,1272.0 631.7,1271.1 625.5,1269.3 624.6,1262.2 628.1,1255.0 630.8,1247.8 632.6,1240.7 630.8,1233.5 628.1,1226.4 624.6,1224.6 628.1,1221.0 627.2,1213.8 624.6,1204.9 619.2,1197.7 612.0,1194.1 604.9,1190.6 608.0,1194.1 602.7,1188.8 597.3,1181.6 590.1,1179.8 584.8,1187.0 581.2,1199.5 574.0,1201.3 575.8,1206.7 579.4,1219.2 577.6,1228.1 574.0,1226.4 568.6,1222.8 563.3,1221.0 559.7,1222.8 557.9,1226.4 550.7,1222.8 540.0,1221.0 538.2,1215.6 536.4,1206.7 525.7,1210.2 518.5,1210.2 520.3,1201.3 518.5,1194.1 513.2,1192.3 515.8,1183.4 515.0,1178.0 511.4,1170.9 507.8,1172.7 504.2,1167.3 497.1,1174.4 494.4,1167.3 497.1,1161.9 498.8,1147.6 501.2,1134.7 503.7,1132.2 508.0,1127.2 508.0,1116.0 504.3,1112.3 495.6,1109.8 486.9,1108.5 485.6,1103.5 483.1,1099.8 476.9,1100.4 473.2,1097.3 470.7,1092.3 467.0,1084.9 465.1,1077.4 464.5,1067.4 465.7,1060.0 467.0,1060.0" fill="none" stroke="#000" stroke-width="2" stroke-linejoin="round"/>
<path d="M481.9,1111.0 504.3,1112.3 506.8,1117.2 506.8,1126.0 501.8,1128.5 494.4,1127.2 491.9,1117.2 484.4,1114.8 481.9,1111.0" fill="none" stroke="#000" stroke-width="2" stroke-linejoin="round"/>
<ellipse cx="473.2" cy="1025.1" rx="2.5" ry="1.2" fill="#000" stroke="#000" stroke-width="1"/>
<ellipse cx="456.0" cy="1066.6" rx="1.0" ry="4.5" fill="#000" stroke="#000" stroke-width="1"/>
<ellipse cx="586.0" cy="1216.6" rx="1.5" ry="3.0" fill="#000" stroke="#000" stroke-width="1"/>
<ellipse cx="487.0" cy="1122.1" rx="1.8" ry="1.8" fill="#000" stroke="#000" stroke-width="1"/>
<ellipse cx="465.0" cy="1068.6" rx="1.5" ry="2.5" fill="#000" stroke="#000" stroke-width="1"/>
<ellipse cx="465.5" cy="1082.6" rx="1.5" ry="2.0" fill="#000" stroke="#000" stroke-width="1"/>
<circle cx="606.0" cy="1154.8" r="12.9" fill="#fff"/>
<circle cx="606" cy="1154.6" r="222" fill="none" stroke="#000" stroke-width="1.5"/>
</svg>
</body></html>
